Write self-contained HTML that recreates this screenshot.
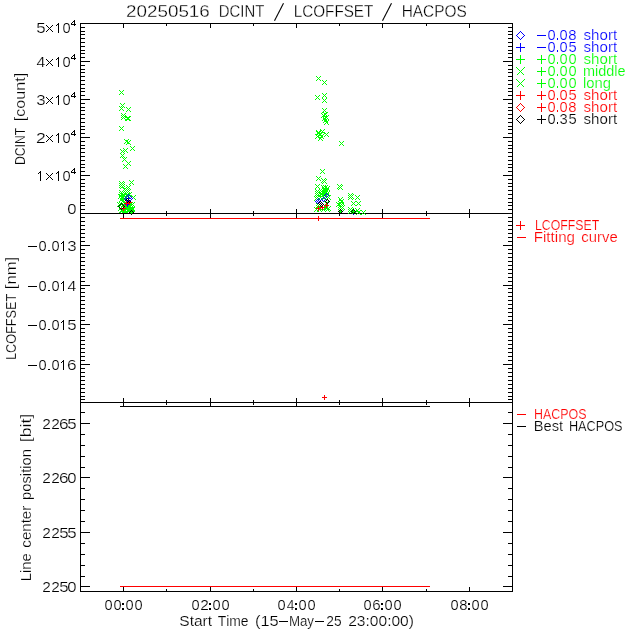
<!DOCTYPE html>
<html><head><meta charset="utf-8"><style>
html,body{margin:0;padding:0;background:#fff;}
svg{display:block;will-change:transform;}
text{font-family:"Liberation Sans", sans-serif;font-kerning:none;}
</style></head><body>
<svg width="640" height="640" viewBox="0 0 640 640">
<rect x="0" y="0" width="640" height="640" fill="#fff"/>
<g shape-rendering="crispEdges">
<rect x="80" y="23" width="433" height="1" fill="#000"/>
<rect x="80" y="213" width="433" height="1" fill="#000"/>
<rect x="80" y="213" width="433" height="1" fill="#000"/>
<rect x="80" y="402" width="433" height="1" fill="#000"/>
<rect x="80" y="402" width="433" height="1" fill="#000"/>
<rect x="80" y="591" width="433" height="1" fill="#000"/>
<rect x="80" y="23" width="1" height="569" fill="#000"/>
<rect x="512" y="23" width="1" height="569" fill="#000"/>
<rect x="123" y="24" width="1" height="4" fill="#000"/>
<rect x="123" y="209" width="1" height="4" fill="#000"/>
<rect x="166" y="24" width="1" height="2" fill="#000"/>
<rect x="166" y="211" width="1" height="2" fill="#000"/>
<rect x="210" y="24" width="1" height="4" fill="#000"/>
<rect x="210" y="209" width="1" height="4" fill="#000"/>
<rect x="253" y="24" width="1" height="2" fill="#000"/>
<rect x="253" y="211" width="1" height="2" fill="#000"/>
<rect x="296" y="24" width="1" height="4" fill="#000"/>
<rect x="296" y="209" width="1" height="4" fill="#000"/>
<rect x="339" y="24" width="1" height="2" fill="#000"/>
<rect x="339" y="211" width="1" height="2" fill="#000"/>
<rect x="382" y="24" width="1" height="4" fill="#000"/>
<rect x="382" y="209" width="1" height="4" fill="#000"/>
<rect x="426" y="24" width="1" height="2" fill="#000"/>
<rect x="426" y="211" width="1" height="2" fill="#000"/>
<rect x="469" y="24" width="1" height="4" fill="#000"/>
<rect x="469" y="209" width="1" height="4" fill="#000"/>
<rect x="123" y="214" width="1" height="4" fill="#000"/>
<rect x="123" y="398" width="1" height="4" fill="#000"/>
<rect x="166" y="214" width="1" height="2" fill="#000"/>
<rect x="166" y="400" width="1" height="2" fill="#000"/>
<rect x="210" y="214" width="1" height="4" fill="#000"/>
<rect x="210" y="398" width="1" height="4" fill="#000"/>
<rect x="253" y="214" width="1" height="2" fill="#000"/>
<rect x="253" y="400" width="1" height="2" fill="#000"/>
<rect x="296" y="214" width="1" height="4" fill="#000"/>
<rect x="296" y="398" width="1" height="4" fill="#000"/>
<rect x="339" y="214" width="1" height="2" fill="#000"/>
<rect x="339" y="400" width="1" height="2" fill="#000"/>
<rect x="382" y="214" width="1" height="4" fill="#000"/>
<rect x="382" y="398" width="1" height="4" fill="#000"/>
<rect x="426" y="214" width="1" height="2" fill="#000"/>
<rect x="426" y="400" width="1" height="2" fill="#000"/>
<rect x="469" y="214" width="1" height="4" fill="#000"/>
<rect x="469" y="398" width="1" height="4" fill="#000"/>
<rect x="123" y="403" width="1" height="4" fill="#000"/>
<rect x="123" y="587" width="1" height="4" fill="#000"/>
<rect x="166" y="403" width="1" height="2" fill="#000"/>
<rect x="166" y="589" width="1" height="2" fill="#000"/>
<rect x="210" y="403" width="1" height="4" fill="#000"/>
<rect x="210" y="587" width="1" height="4" fill="#000"/>
<rect x="253" y="403" width="1" height="2" fill="#000"/>
<rect x="253" y="589" width="1" height="2" fill="#000"/>
<rect x="296" y="403" width="1" height="4" fill="#000"/>
<rect x="296" y="587" width="1" height="4" fill="#000"/>
<rect x="339" y="403" width="1" height="2" fill="#000"/>
<rect x="339" y="589" width="1" height="2" fill="#000"/>
<rect x="382" y="403" width="1" height="4" fill="#000"/>
<rect x="382" y="587" width="1" height="4" fill="#000"/>
<rect x="426" y="403" width="1" height="2" fill="#000"/>
<rect x="426" y="589" width="1" height="2" fill="#000"/>
<rect x="469" y="403" width="1" height="4" fill="#000"/>
<rect x="469" y="587" width="1" height="4" fill="#000"/>
<rect x="80" y="23" width="10" height="1" fill="#000"/>
<rect x="503" y="23" width="10" height="1" fill="#000"/>
<rect x="80" y="27" width="5" height="1" fill="#000"/>
<rect x="508" y="27" width="5" height="1" fill="#000"/>
<rect x="80" y="31" width="5" height="1" fill="#000"/>
<rect x="508" y="31" width="5" height="1" fill="#000"/>
<rect x="80" y="34" width="5" height="1" fill="#000"/>
<rect x="508" y="34" width="5" height="1" fill="#000"/>
<rect x="80" y="38" width="5" height="1" fill="#000"/>
<rect x="508" y="38" width="5" height="1" fill="#000"/>
<rect x="80" y="42" width="5" height="1" fill="#000"/>
<rect x="508" y="42" width="5" height="1" fill="#000"/>
<rect x="80" y="46" width="5" height="1" fill="#000"/>
<rect x="508" y="46" width="5" height="1" fill="#000"/>
<rect x="80" y="50" width="5" height="1" fill="#000"/>
<rect x="508" y="50" width="5" height="1" fill="#000"/>
<rect x="80" y="53" width="5" height="1" fill="#000"/>
<rect x="508" y="53" width="5" height="1" fill="#000"/>
<rect x="80" y="57" width="5" height="1" fill="#000"/>
<rect x="508" y="57" width="5" height="1" fill="#000"/>
<rect x="80" y="61" width="10" height="1" fill="#000"/>
<rect x="503" y="61" width="10" height="1" fill="#000"/>
<rect x="80" y="65" width="5" height="1" fill="#000"/>
<rect x="508" y="65" width="5" height="1" fill="#000"/>
<rect x="80" y="69" width="5" height="1" fill="#000"/>
<rect x="508" y="69" width="5" height="1" fill="#000"/>
<rect x="80" y="72" width="5" height="1" fill="#000"/>
<rect x="508" y="72" width="5" height="1" fill="#000"/>
<rect x="80" y="76" width="5" height="1" fill="#000"/>
<rect x="508" y="76" width="5" height="1" fill="#000"/>
<rect x="80" y="80" width="5" height="1" fill="#000"/>
<rect x="508" y="80" width="5" height="1" fill="#000"/>
<rect x="80" y="84" width="5" height="1" fill="#000"/>
<rect x="508" y="84" width="5" height="1" fill="#000"/>
<rect x="80" y="88" width="5" height="1" fill="#000"/>
<rect x="508" y="88" width="5" height="1" fill="#000"/>
<rect x="80" y="91" width="5" height="1" fill="#000"/>
<rect x="508" y="91" width="5" height="1" fill="#000"/>
<rect x="80" y="95" width="5" height="1" fill="#000"/>
<rect x="508" y="95" width="5" height="1" fill="#000"/>
<rect x="80" y="99" width="10" height="1" fill="#000"/>
<rect x="503" y="99" width="10" height="1" fill="#000"/>
<rect x="80" y="103" width="5" height="1" fill="#000"/>
<rect x="508" y="103" width="5" height="1" fill="#000"/>
<rect x="80" y="107" width="5" height="1" fill="#000"/>
<rect x="508" y="107" width="5" height="1" fill="#000"/>
<rect x="80" y="110" width="5" height="1" fill="#000"/>
<rect x="508" y="110" width="5" height="1" fill="#000"/>
<rect x="80" y="114" width="5" height="1" fill="#000"/>
<rect x="508" y="114" width="5" height="1" fill="#000"/>
<rect x="80" y="118" width="5" height="1" fill="#000"/>
<rect x="508" y="118" width="5" height="1" fill="#000"/>
<rect x="80" y="122" width="5" height="1" fill="#000"/>
<rect x="508" y="122" width="5" height="1" fill="#000"/>
<rect x="80" y="126" width="5" height="1" fill="#000"/>
<rect x="508" y="126" width="5" height="1" fill="#000"/>
<rect x="80" y="129" width="5" height="1" fill="#000"/>
<rect x="508" y="129" width="5" height="1" fill="#000"/>
<rect x="80" y="133" width="5" height="1" fill="#000"/>
<rect x="508" y="133" width="5" height="1" fill="#000"/>
<rect x="80" y="137" width="10" height="1" fill="#000"/>
<rect x="503" y="137" width="10" height="1" fill="#000"/>
<rect x="80" y="141" width="5" height="1" fill="#000"/>
<rect x="508" y="141" width="5" height="1" fill="#000"/>
<rect x="80" y="145" width="5" height="1" fill="#000"/>
<rect x="508" y="145" width="5" height="1" fill="#000"/>
<rect x="80" y="148" width="5" height="1" fill="#000"/>
<rect x="508" y="148" width="5" height="1" fill="#000"/>
<rect x="80" y="152" width="5" height="1" fill="#000"/>
<rect x="508" y="152" width="5" height="1" fill="#000"/>
<rect x="80" y="156" width="5" height="1" fill="#000"/>
<rect x="508" y="156" width="5" height="1" fill="#000"/>
<rect x="80" y="160" width="5" height="1" fill="#000"/>
<rect x="508" y="160" width="5" height="1" fill="#000"/>
<rect x="80" y="164" width="5" height="1" fill="#000"/>
<rect x="508" y="164" width="5" height="1" fill="#000"/>
<rect x="80" y="167" width="5" height="1" fill="#000"/>
<rect x="508" y="167" width="5" height="1" fill="#000"/>
<rect x="80" y="171" width="5" height="1" fill="#000"/>
<rect x="508" y="171" width="5" height="1" fill="#000"/>
<rect x="80" y="175" width="10" height="1" fill="#000"/>
<rect x="503" y="175" width="10" height="1" fill="#000"/>
<rect x="80" y="179" width="5" height="1" fill="#000"/>
<rect x="508" y="179" width="5" height="1" fill="#000"/>
<rect x="80" y="183" width="5" height="1" fill="#000"/>
<rect x="508" y="183" width="5" height="1" fill="#000"/>
<rect x="80" y="186" width="5" height="1" fill="#000"/>
<rect x="508" y="186" width="5" height="1" fill="#000"/>
<rect x="80" y="190" width="5" height="1" fill="#000"/>
<rect x="508" y="190" width="5" height="1" fill="#000"/>
<rect x="80" y="194" width="5" height="1" fill="#000"/>
<rect x="508" y="194" width="5" height="1" fill="#000"/>
<rect x="80" y="198" width="5" height="1" fill="#000"/>
<rect x="508" y="198" width="5" height="1" fill="#000"/>
<rect x="80" y="202" width="5" height="1" fill="#000"/>
<rect x="508" y="202" width="5" height="1" fill="#000"/>
<rect x="80" y="205" width="5" height="1" fill="#000"/>
<rect x="508" y="205" width="5" height="1" fill="#000"/>
<rect x="80" y="209" width="5" height="1" fill="#000"/>
<rect x="508" y="209" width="5" height="1" fill="#000"/>
<rect x="80" y="213" width="10" height="1" fill="#000"/>
<rect x="503" y="213" width="10" height="1" fill="#000"/>
<rect x="80" y="217" width="5" height="1" fill="#000"/>
<rect x="508" y="217" width="5" height="1" fill="#000"/>
<rect x="80" y="221" width="5" height="1" fill="#000"/>
<rect x="508" y="221" width="5" height="1" fill="#000"/>
<rect x="80" y="225" width="5" height="1" fill="#000"/>
<rect x="508" y="225" width="5" height="1" fill="#000"/>
<rect x="80" y="229" width="5" height="1" fill="#000"/>
<rect x="508" y="229" width="5" height="1" fill="#000"/>
<rect x="80" y="233" width="5" height="1" fill="#000"/>
<rect x="508" y="233" width="5" height="1" fill="#000"/>
<rect x="80" y="237" width="5" height="1" fill="#000"/>
<rect x="508" y="237" width="5" height="1" fill="#000"/>
<rect x="80" y="241" width="5" height="1" fill="#000"/>
<rect x="508" y="241" width="5" height="1" fill="#000"/>
<rect x="80" y="245" width="10" height="1" fill="#000"/>
<rect x="503" y="245" width="10" height="1" fill="#000"/>
<rect x="80" y="249" width="5" height="1" fill="#000"/>
<rect x="508" y="249" width="5" height="1" fill="#000"/>
<rect x="80" y="253" width="5" height="1" fill="#000"/>
<rect x="508" y="253" width="5" height="1" fill="#000"/>
<rect x="80" y="257" width="5" height="1" fill="#000"/>
<rect x="508" y="257" width="5" height="1" fill="#000"/>
<rect x="80" y="261" width="5" height="1" fill="#000"/>
<rect x="508" y="261" width="5" height="1" fill="#000"/>
<rect x="80" y="265" width="5" height="1" fill="#000"/>
<rect x="508" y="265" width="5" height="1" fill="#000"/>
<rect x="80" y="269" width="5" height="1" fill="#000"/>
<rect x="508" y="269" width="5" height="1" fill="#000"/>
<rect x="80" y="273" width="5" height="1" fill="#000"/>
<rect x="508" y="273" width="5" height="1" fill="#000"/>
<rect x="80" y="277" width="5" height="1" fill="#000"/>
<rect x="508" y="277" width="5" height="1" fill="#000"/>
<rect x="80" y="281" width="5" height="1" fill="#000"/>
<rect x="508" y="281" width="5" height="1" fill="#000"/>
<rect x="80" y="285" width="10" height="1" fill="#000"/>
<rect x="503" y="285" width="10" height="1" fill="#000"/>
<rect x="80" y="288" width="5" height="1" fill="#000"/>
<rect x="508" y="288" width="5" height="1" fill="#000"/>
<rect x="80" y="292" width="5" height="1" fill="#000"/>
<rect x="508" y="292" width="5" height="1" fill="#000"/>
<rect x="80" y="296" width="5" height="1" fill="#000"/>
<rect x="508" y="296" width="5" height="1" fill="#000"/>
<rect x="80" y="300" width="5" height="1" fill="#000"/>
<rect x="508" y="300" width="5" height="1" fill="#000"/>
<rect x="80" y="304" width="5" height="1" fill="#000"/>
<rect x="508" y="304" width="5" height="1" fill="#000"/>
<rect x="80" y="308" width="5" height="1" fill="#000"/>
<rect x="508" y="308" width="5" height="1" fill="#000"/>
<rect x="80" y="312" width="5" height="1" fill="#000"/>
<rect x="508" y="312" width="5" height="1" fill="#000"/>
<rect x="80" y="316" width="5" height="1" fill="#000"/>
<rect x="508" y="316" width="5" height="1" fill="#000"/>
<rect x="80" y="320" width="5" height="1" fill="#000"/>
<rect x="508" y="320" width="5" height="1" fill="#000"/>
<rect x="80" y="324" width="10" height="1" fill="#000"/>
<rect x="503" y="324" width="10" height="1" fill="#000"/>
<rect x="80" y="328" width="5" height="1" fill="#000"/>
<rect x="508" y="328" width="5" height="1" fill="#000"/>
<rect x="80" y="332" width="5" height="1" fill="#000"/>
<rect x="508" y="332" width="5" height="1" fill="#000"/>
<rect x="80" y="336" width="5" height="1" fill="#000"/>
<rect x="508" y="336" width="5" height="1" fill="#000"/>
<rect x="80" y="340" width="5" height="1" fill="#000"/>
<rect x="508" y="340" width="5" height="1" fill="#000"/>
<rect x="80" y="344" width="5" height="1" fill="#000"/>
<rect x="508" y="344" width="5" height="1" fill="#000"/>
<rect x="80" y="348" width="5" height="1" fill="#000"/>
<rect x="508" y="348" width="5" height="1" fill="#000"/>
<rect x="80" y="352" width="5" height="1" fill="#000"/>
<rect x="508" y="352" width="5" height="1" fill="#000"/>
<rect x="80" y="356" width="5" height="1" fill="#000"/>
<rect x="508" y="356" width="5" height="1" fill="#000"/>
<rect x="80" y="360" width="5" height="1" fill="#000"/>
<rect x="508" y="360" width="5" height="1" fill="#000"/>
<rect x="80" y="364" width="10" height="1" fill="#000"/>
<rect x="503" y="364" width="10" height="1" fill="#000"/>
<rect x="80" y="368" width="5" height="1" fill="#000"/>
<rect x="508" y="368" width="5" height="1" fill="#000"/>
<rect x="80" y="372" width="5" height="1" fill="#000"/>
<rect x="508" y="372" width="5" height="1" fill="#000"/>
<rect x="80" y="376" width="5" height="1" fill="#000"/>
<rect x="508" y="376" width="5" height="1" fill="#000"/>
<rect x="80" y="380" width="5" height="1" fill="#000"/>
<rect x="508" y="380" width="5" height="1" fill="#000"/>
<rect x="80" y="384" width="5" height="1" fill="#000"/>
<rect x="508" y="384" width="5" height="1" fill="#000"/>
<rect x="80" y="388" width="5" height="1" fill="#000"/>
<rect x="508" y="388" width="5" height="1" fill="#000"/>
<rect x="80" y="392" width="5" height="1" fill="#000"/>
<rect x="508" y="392" width="5" height="1" fill="#000"/>
<rect x="80" y="396" width="5" height="1" fill="#000"/>
<rect x="508" y="396" width="5" height="1" fill="#000"/>
<rect x="80" y="399" width="5" height="1" fill="#000"/>
<rect x="508" y="399" width="5" height="1" fill="#000"/>
<rect x="80" y="412" width="5" height="1" fill="#000"/>
<rect x="508" y="412" width="5" height="1" fill="#000"/>
<rect x="80" y="423" width="10" height="1" fill="#000"/>
<rect x="503" y="423" width="10" height="1" fill="#000"/>
<rect x="80" y="434" width="5" height="1" fill="#000"/>
<rect x="508" y="434" width="5" height="1" fill="#000"/>
<rect x="80" y="445" width="5" height="1" fill="#000"/>
<rect x="508" y="445" width="5" height="1" fill="#000"/>
<rect x="80" y="456" width="5" height="1" fill="#000"/>
<rect x="508" y="456" width="5" height="1" fill="#000"/>
<rect x="80" y="467" width="5" height="1" fill="#000"/>
<rect x="508" y="467" width="5" height="1" fill="#000"/>
<rect x="80" y="477" width="10" height="1" fill="#000"/>
<rect x="503" y="477" width="10" height="1" fill="#000"/>
<rect x="80" y="488" width="5" height="1" fill="#000"/>
<rect x="508" y="488" width="5" height="1" fill="#000"/>
<rect x="80" y="499" width="5" height="1" fill="#000"/>
<rect x="508" y="499" width="5" height="1" fill="#000"/>
<rect x="80" y="510" width="5" height="1" fill="#000"/>
<rect x="508" y="510" width="5" height="1" fill="#000"/>
<rect x="80" y="521" width="5" height="1" fill="#000"/>
<rect x="508" y="521" width="5" height="1" fill="#000"/>
<rect x="80" y="532" width="10" height="1" fill="#000"/>
<rect x="503" y="532" width="10" height="1" fill="#000"/>
<rect x="80" y="543" width="5" height="1" fill="#000"/>
<rect x="508" y="543" width="5" height="1" fill="#000"/>
<rect x="80" y="554" width="5" height="1" fill="#000"/>
<rect x="508" y="554" width="5" height="1" fill="#000"/>
<rect x="80" y="565" width="5" height="1" fill="#000"/>
<rect x="508" y="565" width="5" height="1" fill="#000"/>
<rect x="80" y="576" width="5" height="1" fill="#000"/>
<rect x="508" y="576" width="5" height="1" fill="#000"/>
<rect x="80" y="586" width="10" height="1" fill="#000"/>
<rect x="503" y="586" width="10" height="1" fill="#000"/>
<rect x="351" y="212" width="5" height="1" fill="#0000ff"/>
<rect x="353" y="210" width="1" height="5" fill="#0000ff"/>
<rect x="119" y="90" width="1" height="1" fill="#00ff00"/>
<rect x="119" y="94" width="1" height="1" fill="#00ff00"/>
<rect x="120" y="91" width="1" height="1" fill="#00ff00"/>
<rect x="120" y="93" width="1" height="1" fill="#00ff00"/>
<rect x="121" y="92" width="1" height="1" fill="#00ff00"/>
<rect x="122" y="93" width="1" height="1" fill="#00ff00"/>
<rect x="122" y="91" width="1" height="1" fill="#00ff00"/>
<rect x="123" y="94" width="1" height="1" fill="#00ff00"/>
<rect x="123" y="90" width="1" height="1" fill="#00ff00"/>
<rect x="120" y="103" width="1" height="1" fill="#00ff00"/>
<rect x="120" y="107" width="1" height="1" fill="#00ff00"/>
<rect x="121" y="104" width="1" height="1" fill="#00ff00"/>
<rect x="121" y="106" width="1" height="1" fill="#00ff00"/>
<rect x="122" y="105" width="1" height="1" fill="#00ff00"/>
<rect x="123" y="106" width="1" height="1" fill="#00ff00"/>
<rect x="123" y="104" width="1" height="1" fill="#00ff00"/>
<rect x="124" y="107" width="1" height="1" fill="#00ff00"/>
<rect x="124" y="103" width="1" height="1" fill="#00ff00"/>
<rect x="119" y="106" width="1" height="1" fill="#00ff00"/>
<rect x="119" y="110" width="1" height="1" fill="#00ff00"/>
<rect x="120" y="107" width="1" height="1" fill="#00ff00"/>
<rect x="120" y="109" width="1" height="1" fill="#00ff00"/>
<rect x="121" y="108" width="1" height="1" fill="#00ff00"/>
<rect x="122" y="109" width="1" height="1" fill="#00ff00"/>
<rect x="122" y="107" width="1" height="1" fill="#00ff00"/>
<rect x="123" y="110" width="1" height="1" fill="#00ff00"/>
<rect x="123" y="106" width="1" height="1" fill="#00ff00"/>
<rect x="126" y="107" width="1" height="1" fill="#00ff00"/>
<rect x="126" y="111" width="1" height="1" fill="#00ff00"/>
<rect x="127" y="108" width="1" height="1" fill="#00ff00"/>
<rect x="127" y="110" width="1" height="1" fill="#00ff00"/>
<rect x="128" y="109" width="1" height="1" fill="#00ff00"/>
<rect x="129" y="110" width="1" height="1" fill="#00ff00"/>
<rect x="129" y="108" width="1" height="1" fill="#00ff00"/>
<rect x="130" y="111" width="1" height="1" fill="#00ff00"/>
<rect x="130" y="107" width="1" height="1" fill="#00ff00"/>
<rect x="121" y="113" width="1" height="1" fill="#00ff00"/>
<rect x="121" y="117" width="1" height="1" fill="#00ff00"/>
<rect x="122" y="114" width="1" height="1" fill="#00ff00"/>
<rect x="122" y="116" width="1" height="1" fill="#00ff00"/>
<rect x="123" y="115" width="1" height="1" fill="#00ff00"/>
<rect x="124" y="116" width="1" height="1" fill="#00ff00"/>
<rect x="124" y="114" width="1" height="1" fill="#00ff00"/>
<rect x="125" y="117" width="1" height="1" fill="#00ff00"/>
<rect x="125" y="113" width="1" height="1" fill="#00ff00"/>
<rect x="121" y="115" width="1" height="1" fill="#00ff00"/>
<rect x="121" y="119" width="1" height="1" fill="#00ff00"/>
<rect x="122" y="116" width="1" height="1" fill="#00ff00"/>
<rect x="122" y="118" width="1" height="1" fill="#00ff00"/>
<rect x="123" y="117" width="1" height="1" fill="#00ff00"/>
<rect x="124" y="118" width="1" height="1" fill="#00ff00"/>
<rect x="124" y="116" width="1" height="1" fill="#00ff00"/>
<rect x="125" y="119" width="1" height="1" fill="#00ff00"/>
<rect x="125" y="115" width="1" height="1" fill="#00ff00"/>
<rect x="125" y="116" width="1" height="1" fill="#00ff00"/>
<rect x="125" y="120" width="1" height="1" fill="#00ff00"/>
<rect x="126" y="117" width="1" height="1" fill="#00ff00"/>
<rect x="126" y="119" width="1" height="1" fill="#00ff00"/>
<rect x="127" y="118" width="1" height="1" fill="#00ff00"/>
<rect x="128" y="119" width="1" height="1" fill="#00ff00"/>
<rect x="128" y="117" width="1" height="1" fill="#00ff00"/>
<rect x="129" y="120" width="1" height="1" fill="#00ff00"/>
<rect x="129" y="116" width="1" height="1" fill="#00ff00"/>
<rect x="126" y="116" width="1" height="1" fill="#00ff00"/>
<rect x="126" y="120" width="1" height="1" fill="#00ff00"/>
<rect x="127" y="117" width="1" height="1" fill="#00ff00"/>
<rect x="127" y="119" width="1" height="1" fill="#00ff00"/>
<rect x="128" y="118" width="1" height="1" fill="#00ff00"/>
<rect x="129" y="119" width="1" height="1" fill="#00ff00"/>
<rect x="129" y="117" width="1" height="1" fill="#00ff00"/>
<rect x="130" y="120" width="1" height="1" fill="#00ff00"/>
<rect x="130" y="116" width="1" height="1" fill="#00ff00"/>
<rect x="119" y="126" width="1" height="1" fill="#00ff00"/>
<rect x="119" y="130" width="1" height="1" fill="#00ff00"/>
<rect x="120" y="127" width="1" height="1" fill="#00ff00"/>
<rect x="120" y="129" width="1" height="1" fill="#00ff00"/>
<rect x="121" y="128" width="1" height="1" fill="#00ff00"/>
<rect x="122" y="129" width="1" height="1" fill="#00ff00"/>
<rect x="122" y="127" width="1" height="1" fill="#00ff00"/>
<rect x="123" y="130" width="1" height="1" fill="#00ff00"/>
<rect x="123" y="126" width="1" height="1" fill="#00ff00"/>
<rect x="124" y="139" width="1" height="1" fill="#00ff00"/>
<rect x="124" y="143" width="1" height="1" fill="#00ff00"/>
<rect x="125" y="140" width="1" height="1" fill="#00ff00"/>
<rect x="125" y="142" width="1" height="1" fill="#00ff00"/>
<rect x="126" y="141" width="1" height="1" fill="#00ff00"/>
<rect x="127" y="142" width="1" height="1" fill="#00ff00"/>
<rect x="127" y="140" width="1" height="1" fill="#00ff00"/>
<rect x="128" y="143" width="1" height="1" fill="#00ff00"/>
<rect x="128" y="139" width="1" height="1" fill="#00ff00"/>
<rect x="126" y="140" width="1" height="1" fill="#00ff00"/>
<rect x="126" y="144" width="1" height="1" fill="#00ff00"/>
<rect x="127" y="141" width="1" height="1" fill="#00ff00"/>
<rect x="127" y="143" width="1" height="1" fill="#00ff00"/>
<rect x="128" y="142" width="1" height="1" fill="#00ff00"/>
<rect x="129" y="143" width="1" height="1" fill="#00ff00"/>
<rect x="129" y="141" width="1" height="1" fill="#00ff00"/>
<rect x="130" y="144" width="1" height="1" fill="#00ff00"/>
<rect x="130" y="140" width="1" height="1" fill="#00ff00"/>
<rect x="130" y="146" width="1" height="1" fill="#00ff00"/>
<rect x="130" y="150" width="1" height="1" fill="#00ff00"/>
<rect x="131" y="147" width="1" height="1" fill="#00ff00"/>
<rect x="131" y="149" width="1" height="1" fill="#00ff00"/>
<rect x="132" y="148" width="1" height="1" fill="#00ff00"/>
<rect x="133" y="149" width="1" height="1" fill="#00ff00"/>
<rect x="133" y="147" width="1" height="1" fill="#00ff00"/>
<rect x="134" y="150" width="1" height="1" fill="#00ff00"/>
<rect x="134" y="146" width="1" height="1" fill="#00ff00"/>
<rect x="120" y="149" width="1" height="1" fill="#00ff00"/>
<rect x="120" y="153" width="1" height="1" fill="#00ff00"/>
<rect x="121" y="150" width="1" height="1" fill="#00ff00"/>
<rect x="121" y="152" width="1" height="1" fill="#00ff00"/>
<rect x="122" y="151" width="1" height="1" fill="#00ff00"/>
<rect x="123" y="152" width="1" height="1" fill="#00ff00"/>
<rect x="123" y="150" width="1" height="1" fill="#00ff00"/>
<rect x="124" y="153" width="1" height="1" fill="#00ff00"/>
<rect x="124" y="149" width="1" height="1" fill="#00ff00"/>
<rect x="123" y="148" width="1" height="1" fill="#00ff00"/>
<rect x="123" y="152" width="1" height="1" fill="#00ff00"/>
<rect x="124" y="149" width="1" height="1" fill="#00ff00"/>
<rect x="124" y="151" width="1" height="1" fill="#00ff00"/>
<rect x="125" y="150" width="1" height="1" fill="#00ff00"/>
<rect x="126" y="151" width="1" height="1" fill="#00ff00"/>
<rect x="126" y="149" width="1" height="1" fill="#00ff00"/>
<rect x="127" y="152" width="1" height="1" fill="#00ff00"/>
<rect x="127" y="148" width="1" height="1" fill="#00ff00"/>
<rect x="120" y="153" width="1" height="1" fill="#00ff00"/>
<rect x="120" y="157" width="1" height="1" fill="#00ff00"/>
<rect x="121" y="154" width="1" height="1" fill="#00ff00"/>
<rect x="121" y="156" width="1" height="1" fill="#00ff00"/>
<rect x="122" y="155" width="1" height="1" fill="#00ff00"/>
<rect x="123" y="156" width="1" height="1" fill="#00ff00"/>
<rect x="123" y="154" width="1" height="1" fill="#00ff00"/>
<rect x="124" y="157" width="1" height="1" fill="#00ff00"/>
<rect x="124" y="153" width="1" height="1" fill="#00ff00"/>
<rect x="122" y="157" width="1" height="1" fill="#00ff00"/>
<rect x="122" y="161" width="1" height="1" fill="#00ff00"/>
<rect x="123" y="158" width="1" height="1" fill="#00ff00"/>
<rect x="123" y="160" width="1" height="1" fill="#00ff00"/>
<rect x="124" y="159" width="1" height="1" fill="#00ff00"/>
<rect x="125" y="160" width="1" height="1" fill="#00ff00"/>
<rect x="125" y="158" width="1" height="1" fill="#00ff00"/>
<rect x="126" y="161" width="1" height="1" fill="#00ff00"/>
<rect x="126" y="157" width="1" height="1" fill="#00ff00"/>
<rect x="126" y="161" width="1" height="1" fill="#00ff00"/>
<rect x="126" y="165" width="1" height="1" fill="#00ff00"/>
<rect x="127" y="162" width="1" height="1" fill="#00ff00"/>
<rect x="127" y="164" width="1" height="1" fill="#00ff00"/>
<rect x="128" y="163" width="1" height="1" fill="#00ff00"/>
<rect x="129" y="164" width="1" height="1" fill="#00ff00"/>
<rect x="129" y="162" width="1" height="1" fill="#00ff00"/>
<rect x="130" y="165" width="1" height="1" fill="#00ff00"/>
<rect x="130" y="161" width="1" height="1" fill="#00ff00"/>
<rect x="123" y="164" width="1" height="1" fill="#00ff00"/>
<rect x="123" y="168" width="1" height="1" fill="#00ff00"/>
<rect x="124" y="165" width="1" height="1" fill="#00ff00"/>
<rect x="124" y="167" width="1" height="1" fill="#00ff00"/>
<rect x="125" y="166" width="1" height="1" fill="#00ff00"/>
<rect x="126" y="167" width="1" height="1" fill="#00ff00"/>
<rect x="126" y="165" width="1" height="1" fill="#00ff00"/>
<rect x="127" y="168" width="1" height="1" fill="#00ff00"/>
<rect x="127" y="164" width="1" height="1" fill="#00ff00"/>
<rect x="129" y="180" width="1" height="1" fill="#00ff00"/>
<rect x="129" y="184" width="1" height="1" fill="#00ff00"/>
<rect x="130" y="181" width="1" height="1" fill="#00ff00"/>
<rect x="130" y="183" width="1" height="1" fill="#00ff00"/>
<rect x="131" y="182" width="1" height="1" fill="#00ff00"/>
<rect x="132" y="183" width="1" height="1" fill="#00ff00"/>
<rect x="132" y="181" width="1" height="1" fill="#00ff00"/>
<rect x="133" y="184" width="1" height="1" fill="#00ff00"/>
<rect x="133" y="180" width="1" height="1" fill="#00ff00"/>
<rect x="119" y="181" width="1" height="1" fill="#00ff00"/>
<rect x="119" y="185" width="1" height="1" fill="#00ff00"/>
<rect x="120" y="182" width="1" height="1" fill="#00ff00"/>
<rect x="120" y="184" width="1" height="1" fill="#00ff00"/>
<rect x="121" y="183" width="1" height="1" fill="#00ff00"/>
<rect x="122" y="184" width="1" height="1" fill="#00ff00"/>
<rect x="122" y="182" width="1" height="1" fill="#00ff00"/>
<rect x="123" y="185" width="1" height="1" fill="#00ff00"/>
<rect x="123" y="181" width="1" height="1" fill="#00ff00"/>
<rect x="120" y="182" width="1" height="1" fill="#00ff00"/>
<rect x="120" y="186" width="1" height="1" fill="#00ff00"/>
<rect x="121" y="183" width="1" height="1" fill="#00ff00"/>
<rect x="121" y="185" width="1" height="1" fill="#00ff00"/>
<rect x="122" y="184" width="1" height="1" fill="#00ff00"/>
<rect x="123" y="185" width="1" height="1" fill="#00ff00"/>
<rect x="123" y="183" width="1" height="1" fill="#00ff00"/>
<rect x="124" y="186" width="1" height="1" fill="#00ff00"/>
<rect x="124" y="182" width="1" height="1" fill="#00ff00"/>
<rect x="119" y="183" width="1" height="1" fill="#00ff00"/>
<rect x="119" y="187" width="1" height="1" fill="#00ff00"/>
<rect x="120" y="184" width="1" height="1" fill="#00ff00"/>
<rect x="120" y="186" width="1" height="1" fill="#00ff00"/>
<rect x="121" y="185" width="1" height="1" fill="#00ff00"/>
<rect x="122" y="186" width="1" height="1" fill="#00ff00"/>
<rect x="122" y="184" width="1" height="1" fill="#00ff00"/>
<rect x="123" y="187" width="1" height="1" fill="#00ff00"/>
<rect x="123" y="183" width="1" height="1" fill="#00ff00"/>
<rect x="120" y="184" width="1" height="1" fill="#00ff00"/>
<rect x="120" y="188" width="1" height="1" fill="#00ff00"/>
<rect x="121" y="185" width="1" height="1" fill="#00ff00"/>
<rect x="121" y="187" width="1" height="1" fill="#00ff00"/>
<rect x="122" y="186" width="1" height="1" fill="#00ff00"/>
<rect x="123" y="187" width="1" height="1" fill="#00ff00"/>
<rect x="123" y="185" width="1" height="1" fill="#00ff00"/>
<rect x="124" y="188" width="1" height="1" fill="#00ff00"/>
<rect x="124" y="184" width="1" height="1" fill="#00ff00"/>
<rect x="126" y="185" width="1" height="1" fill="#00ff00"/>
<rect x="126" y="189" width="1" height="1" fill="#00ff00"/>
<rect x="127" y="186" width="1" height="1" fill="#00ff00"/>
<rect x="127" y="188" width="1" height="1" fill="#00ff00"/>
<rect x="128" y="187" width="1" height="1" fill="#00ff00"/>
<rect x="129" y="188" width="1" height="1" fill="#00ff00"/>
<rect x="129" y="186" width="1" height="1" fill="#00ff00"/>
<rect x="130" y="189" width="1" height="1" fill="#00ff00"/>
<rect x="130" y="185" width="1" height="1" fill="#00ff00"/>
<rect x="122" y="187" width="1" height="1" fill="#00ff00"/>
<rect x="122" y="191" width="1" height="1" fill="#00ff00"/>
<rect x="123" y="188" width="1" height="1" fill="#00ff00"/>
<rect x="123" y="190" width="1" height="1" fill="#00ff00"/>
<rect x="124" y="189" width="1" height="1" fill="#00ff00"/>
<rect x="125" y="190" width="1" height="1" fill="#00ff00"/>
<rect x="125" y="188" width="1" height="1" fill="#00ff00"/>
<rect x="126" y="191" width="1" height="1" fill="#00ff00"/>
<rect x="126" y="187" width="1" height="1" fill="#00ff00"/>
<rect x="123" y="188" width="1" height="1" fill="#00ff00"/>
<rect x="123" y="192" width="1" height="1" fill="#00ff00"/>
<rect x="124" y="189" width="1" height="1" fill="#00ff00"/>
<rect x="124" y="191" width="1" height="1" fill="#00ff00"/>
<rect x="125" y="190" width="1" height="1" fill="#00ff00"/>
<rect x="126" y="191" width="1" height="1" fill="#00ff00"/>
<rect x="126" y="189" width="1" height="1" fill="#00ff00"/>
<rect x="127" y="192" width="1" height="1" fill="#00ff00"/>
<rect x="127" y="188" width="1" height="1" fill="#00ff00"/>
<rect x="124" y="189" width="1" height="1" fill="#00ff00"/>
<rect x="124" y="193" width="1" height="1" fill="#00ff00"/>
<rect x="125" y="190" width="1" height="1" fill="#00ff00"/>
<rect x="125" y="192" width="1" height="1" fill="#00ff00"/>
<rect x="126" y="191" width="1" height="1" fill="#00ff00"/>
<rect x="127" y="192" width="1" height="1" fill="#00ff00"/>
<rect x="127" y="190" width="1" height="1" fill="#00ff00"/>
<rect x="128" y="193" width="1" height="1" fill="#00ff00"/>
<rect x="128" y="189" width="1" height="1" fill="#00ff00"/>
<rect x="123" y="190" width="1" height="1" fill="#00ff00"/>
<rect x="123" y="194" width="1" height="1" fill="#00ff00"/>
<rect x="124" y="191" width="1" height="1" fill="#00ff00"/>
<rect x="124" y="193" width="1" height="1" fill="#00ff00"/>
<rect x="125" y="192" width="1" height="1" fill="#00ff00"/>
<rect x="126" y="193" width="1" height="1" fill="#00ff00"/>
<rect x="126" y="191" width="1" height="1" fill="#00ff00"/>
<rect x="127" y="194" width="1" height="1" fill="#00ff00"/>
<rect x="127" y="190" width="1" height="1" fill="#00ff00"/>
<rect x="125" y="190" width="1" height="1" fill="#00ff00"/>
<rect x="125" y="194" width="1" height="1" fill="#00ff00"/>
<rect x="126" y="191" width="1" height="1" fill="#00ff00"/>
<rect x="126" y="193" width="1" height="1" fill="#00ff00"/>
<rect x="127" y="192" width="1" height="1" fill="#00ff00"/>
<rect x="128" y="193" width="1" height="1" fill="#00ff00"/>
<rect x="128" y="191" width="1" height="1" fill="#00ff00"/>
<rect x="129" y="194" width="1" height="1" fill="#00ff00"/>
<rect x="129" y="190" width="1" height="1" fill="#00ff00"/>
<rect x="119" y="190" width="1" height="1" fill="#00ff00"/>
<rect x="119" y="194" width="1" height="1" fill="#00ff00"/>
<rect x="120" y="191" width="1" height="1" fill="#00ff00"/>
<rect x="120" y="193" width="1" height="1" fill="#00ff00"/>
<rect x="121" y="192" width="1" height="1" fill="#00ff00"/>
<rect x="122" y="193" width="1" height="1" fill="#00ff00"/>
<rect x="122" y="191" width="1" height="1" fill="#00ff00"/>
<rect x="123" y="194" width="1" height="1" fill="#00ff00"/>
<rect x="123" y="190" width="1" height="1" fill="#00ff00"/>
<rect x="119" y="192" width="1" height="1" fill="#00ff00"/>
<rect x="119" y="196" width="1" height="1" fill="#00ff00"/>
<rect x="120" y="193" width="1" height="1" fill="#00ff00"/>
<rect x="120" y="195" width="1" height="1" fill="#00ff00"/>
<rect x="121" y="194" width="1" height="1" fill="#00ff00"/>
<rect x="122" y="195" width="1" height="1" fill="#00ff00"/>
<rect x="122" y="193" width="1" height="1" fill="#00ff00"/>
<rect x="123" y="196" width="1" height="1" fill="#00ff00"/>
<rect x="123" y="192" width="1" height="1" fill="#00ff00"/>
<rect x="121" y="193" width="1" height="1" fill="#00ff00"/>
<rect x="121" y="197" width="1" height="1" fill="#00ff00"/>
<rect x="122" y="194" width="1" height="1" fill="#00ff00"/>
<rect x="122" y="196" width="1" height="1" fill="#00ff00"/>
<rect x="123" y="195" width="1" height="1" fill="#00ff00"/>
<rect x="124" y="196" width="1" height="1" fill="#00ff00"/>
<rect x="124" y="194" width="1" height="1" fill="#00ff00"/>
<rect x="125" y="197" width="1" height="1" fill="#00ff00"/>
<rect x="125" y="193" width="1" height="1" fill="#00ff00"/>
<rect x="123" y="192" width="1" height="1" fill="#00ff00"/>
<rect x="123" y="196" width="1" height="1" fill="#00ff00"/>
<rect x="124" y="193" width="1" height="1" fill="#00ff00"/>
<rect x="124" y="195" width="1" height="1" fill="#00ff00"/>
<rect x="125" y="194" width="1" height="1" fill="#00ff00"/>
<rect x="126" y="195" width="1" height="1" fill="#00ff00"/>
<rect x="126" y="193" width="1" height="1" fill="#00ff00"/>
<rect x="127" y="196" width="1" height="1" fill="#00ff00"/>
<rect x="127" y="192" width="1" height="1" fill="#00ff00"/>
<rect x="125" y="193" width="1" height="1" fill="#00ff00"/>
<rect x="125" y="197" width="1" height="1" fill="#00ff00"/>
<rect x="126" y="194" width="1" height="1" fill="#00ff00"/>
<rect x="126" y="196" width="1" height="1" fill="#00ff00"/>
<rect x="127" y="195" width="1" height="1" fill="#00ff00"/>
<rect x="128" y="196" width="1" height="1" fill="#00ff00"/>
<rect x="128" y="194" width="1" height="1" fill="#00ff00"/>
<rect x="129" y="197" width="1" height="1" fill="#00ff00"/>
<rect x="129" y="193" width="1" height="1" fill="#00ff00"/>
<rect x="120" y="195" width="1" height="1" fill="#00ff00"/>
<rect x="120" y="199" width="1" height="1" fill="#00ff00"/>
<rect x="121" y="196" width="1" height="1" fill="#00ff00"/>
<rect x="121" y="198" width="1" height="1" fill="#00ff00"/>
<rect x="122" y="197" width="1" height="1" fill="#00ff00"/>
<rect x="123" y="198" width="1" height="1" fill="#00ff00"/>
<rect x="123" y="196" width="1" height="1" fill="#00ff00"/>
<rect x="124" y="199" width="1" height="1" fill="#00ff00"/>
<rect x="124" y="195" width="1" height="1" fill="#00ff00"/>
<rect x="122" y="196" width="1" height="1" fill="#00ff00"/>
<rect x="122" y="200" width="1" height="1" fill="#00ff00"/>
<rect x="123" y="197" width="1" height="1" fill="#00ff00"/>
<rect x="123" y="199" width="1" height="1" fill="#00ff00"/>
<rect x="124" y="198" width="1" height="1" fill="#00ff00"/>
<rect x="125" y="199" width="1" height="1" fill="#00ff00"/>
<rect x="125" y="197" width="1" height="1" fill="#00ff00"/>
<rect x="126" y="200" width="1" height="1" fill="#00ff00"/>
<rect x="126" y="196" width="1" height="1" fill="#00ff00"/>
<rect x="124" y="195" width="1" height="1" fill="#00ff00"/>
<rect x="124" y="199" width="1" height="1" fill="#00ff00"/>
<rect x="125" y="196" width="1" height="1" fill="#00ff00"/>
<rect x="125" y="198" width="1" height="1" fill="#00ff00"/>
<rect x="126" y="197" width="1" height="1" fill="#00ff00"/>
<rect x="127" y="198" width="1" height="1" fill="#00ff00"/>
<rect x="127" y="196" width="1" height="1" fill="#00ff00"/>
<rect x="128" y="199" width="1" height="1" fill="#00ff00"/>
<rect x="128" y="195" width="1" height="1" fill="#00ff00"/>
<rect x="131" y="195" width="1" height="1" fill="#00ff00"/>
<rect x="131" y="199" width="1" height="1" fill="#00ff00"/>
<rect x="132" y="196" width="1" height="1" fill="#00ff00"/>
<rect x="132" y="198" width="1" height="1" fill="#00ff00"/>
<rect x="133" y="197" width="1" height="1" fill="#00ff00"/>
<rect x="134" y="198" width="1" height="1" fill="#00ff00"/>
<rect x="134" y="196" width="1" height="1" fill="#00ff00"/>
<rect x="135" y="199" width="1" height="1" fill="#00ff00"/>
<rect x="135" y="195" width="1" height="1" fill="#00ff00"/>
<rect x="119" y="197" width="1" height="1" fill="#00ff00"/>
<rect x="119" y="201" width="1" height="1" fill="#00ff00"/>
<rect x="120" y="198" width="1" height="1" fill="#00ff00"/>
<rect x="120" y="200" width="1" height="1" fill="#00ff00"/>
<rect x="121" y="199" width="1" height="1" fill="#00ff00"/>
<rect x="122" y="200" width="1" height="1" fill="#00ff00"/>
<rect x="122" y="198" width="1" height="1" fill="#00ff00"/>
<rect x="123" y="201" width="1" height="1" fill="#00ff00"/>
<rect x="123" y="197" width="1" height="1" fill="#00ff00"/>
<rect x="121" y="198" width="1" height="1" fill="#00ff00"/>
<rect x="121" y="202" width="1" height="1" fill="#00ff00"/>
<rect x="122" y="199" width="1" height="1" fill="#00ff00"/>
<rect x="122" y="201" width="1" height="1" fill="#00ff00"/>
<rect x="123" y="200" width="1" height="1" fill="#00ff00"/>
<rect x="124" y="201" width="1" height="1" fill="#00ff00"/>
<rect x="124" y="199" width="1" height="1" fill="#00ff00"/>
<rect x="125" y="202" width="1" height="1" fill="#00ff00"/>
<rect x="125" y="198" width="1" height="1" fill="#00ff00"/>
<rect x="130" y="202" width="1" height="1" fill="#00ff00"/>
<rect x="130" y="206" width="1" height="1" fill="#00ff00"/>
<rect x="131" y="203" width="1" height="1" fill="#00ff00"/>
<rect x="131" y="205" width="1" height="1" fill="#00ff00"/>
<rect x="132" y="204" width="1" height="1" fill="#00ff00"/>
<rect x="133" y="205" width="1" height="1" fill="#00ff00"/>
<rect x="133" y="203" width="1" height="1" fill="#00ff00"/>
<rect x="134" y="206" width="1" height="1" fill="#00ff00"/>
<rect x="134" y="202" width="1" height="1" fill="#00ff00"/>
<rect x="119" y="202" width="1" height="1" fill="#00ff00"/>
<rect x="119" y="206" width="1" height="1" fill="#00ff00"/>
<rect x="120" y="203" width="1" height="1" fill="#00ff00"/>
<rect x="120" y="205" width="1" height="1" fill="#00ff00"/>
<rect x="121" y="204" width="1" height="1" fill="#00ff00"/>
<rect x="122" y="205" width="1" height="1" fill="#00ff00"/>
<rect x="122" y="203" width="1" height="1" fill="#00ff00"/>
<rect x="123" y="206" width="1" height="1" fill="#00ff00"/>
<rect x="123" y="202" width="1" height="1" fill="#00ff00"/>
<rect x="121" y="203" width="1" height="1" fill="#00ff00"/>
<rect x="121" y="207" width="1" height="1" fill="#00ff00"/>
<rect x="122" y="204" width="1" height="1" fill="#00ff00"/>
<rect x="122" y="206" width="1" height="1" fill="#00ff00"/>
<rect x="123" y="205" width="1" height="1" fill="#00ff00"/>
<rect x="124" y="206" width="1" height="1" fill="#00ff00"/>
<rect x="124" y="204" width="1" height="1" fill="#00ff00"/>
<rect x="125" y="207" width="1" height="1" fill="#00ff00"/>
<rect x="125" y="203" width="1" height="1" fill="#00ff00"/>
<rect x="123" y="204" width="1" height="1" fill="#00ff00"/>
<rect x="123" y="208" width="1" height="1" fill="#00ff00"/>
<rect x="124" y="205" width="1" height="1" fill="#00ff00"/>
<rect x="124" y="207" width="1" height="1" fill="#00ff00"/>
<rect x="125" y="206" width="1" height="1" fill="#00ff00"/>
<rect x="126" y="207" width="1" height="1" fill="#00ff00"/>
<rect x="126" y="205" width="1" height="1" fill="#00ff00"/>
<rect x="127" y="208" width="1" height="1" fill="#00ff00"/>
<rect x="127" y="204" width="1" height="1" fill="#00ff00"/>
<rect x="125" y="205" width="1" height="1" fill="#00ff00"/>
<rect x="125" y="209" width="1" height="1" fill="#00ff00"/>
<rect x="126" y="206" width="1" height="1" fill="#00ff00"/>
<rect x="126" y="208" width="1" height="1" fill="#00ff00"/>
<rect x="127" y="207" width="1" height="1" fill="#00ff00"/>
<rect x="128" y="208" width="1" height="1" fill="#00ff00"/>
<rect x="128" y="206" width="1" height="1" fill="#00ff00"/>
<rect x="129" y="209" width="1" height="1" fill="#00ff00"/>
<rect x="129" y="205" width="1" height="1" fill="#00ff00"/>
<rect x="127" y="204" width="1" height="1" fill="#00ff00"/>
<rect x="127" y="208" width="1" height="1" fill="#00ff00"/>
<rect x="128" y="205" width="1" height="1" fill="#00ff00"/>
<rect x="128" y="207" width="1" height="1" fill="#00ff00"/>
<rect x="129" y="206" width="1" height="1" fill="#00ff00"/>
<rect x="130" y="207" width="1" height="1" fill="#00ff00"/>
<rect x="130" y="205" width="1" height="1" fill="#00ff00"/>
<rect x="131" y="208" width="1" height="1" fill="#00ff00"/>
<rect x="131" y="204" width="1" height="1" fill="#00ff00"/>
<rect x="129" y="205" width="1" height="1" fill="#00ff00"/>
<rect x="129" y="209" width="1" height="1" fill="#00ff00"/>
<rect x="130" y="206" width="1" height="1" fill="#00ff00"/>
<rect x="130" y="208" width="1" height="1" fill="#00ff00"/>
<rect x="131" y="207" width="1" height="1" fill="#00ff00"/>
<rect x="132" y="208" width="1" height="1" fill="#00ff00"/>
<rect x="132" y="206" width="1" height="1" fill="#00ff00"/>
<rect x="133" y="209" width="1" height="1" fill="#00ff00"/>
<rect x="133" y="205" width="1" height="1" fill="#00ff00"/>
<rect x="118" y="206" width="1" height="1" fill="#00ff00"/>
<rect x="118" y="210" width="1" height="1" fill="#00ff00"/>
<rect x="119" y="207" width="1" height="1" fill="#00ff00"/>
<rect x="119" y="209" width="1" height="1" fill="#00ff00"/>
<rect x="120" y="208" width="1" height="1" fill="#00ff00"/>
<rect x="121" y="209" width="1" height="1" fill="#00ff00"/>
<rect x="121" y="207" width="1" height="1" fill="#00ff00"/>
<rect x="122" y="210" width="1" height="1" fill="#00ff00"/>
<rect x="122" y="206" width="1" height="1" fill="#00ff00"/>
<rect x="120" y="208" width="1" height="1" fill="#00ff00"/>
<rect x="120" y="212" width="1" height="1" fill="#00ff00"/>
<rect x="121" y="209" width="1" height="1" fill="#00ff00"/>
<rect x="121" y="211" width="1" height="1" fill="#00ff00"/>
<rect x="122" y="210" width="1" height="1" fill="#00ff00"/>
<rect x="123" y="211" width="1" height="1" fill="#00ff00"/>
<rect x="123" y="209" width="1" height="1" fill="#00ff00"/>
<rect x="124" y="212" width="1" height="1" fill="#00ff00"/>
<rect x="124" y="208" width="1" height="1" fill="#00ff00"/>
<rect x="122" y="208" width="1" height="1" fill="#00ff00"/>
<rect x="122" y="212" width="1" height="1" fill="#00ff00"/>
<rect x="123" y="209" width="1" height="1" fill="#00ff00"/>
<rect x="123" y="211" width="1" height="1" fill="#00ff00"/>
<rect x="124" y="210" width="1" height="1" fill="#00ff00"/>
<rect x="125" y="211" width="1" height="1" fill="#00ff00"/>
<rect x="125" y="209" width="1" height="1" fill="#00ff00"/>
<rect x="126" y="212" width="1" height="1" fill="#00ff00"/>
<rect x="126" y="208" width="1" height="1" fill="#00ff00"/>
<rect x="124" y="207" width="1" height="1" fill="#00ff00"/>
<rect x="124" y="211" width="1" height="1" fill="#00ff00"/>
<rect x="125" y="208" width="1" height="1" fill="#00ff00"/>
<rect x="125" y="210" width="1" height="1" fill="#00ff00"/>
<rect x="126" y="209" width="1" height="1" fill="#00ff00"/>
<rect x="127" y="210" width="1" height="1" fill="#00ff00"/>
<rect x="127" y="208" width="1" height="1" fill="#00ff00"/>
<rect x="128" y="211" width="1" height="1" fill="#00ff00"/>
<rect x="128" y="207" width="1" height="1" fill="#00ff00"/>
<rect x="126" y="208" width="1" height="1" fill="#00ff00"/>
<rect x="126" y="212" width="1" height="1" fill="#00ff00"/>
<rect x="127" y="209" width="1" height="1" fill="#00ff00"/>
<rect x="127" y="211" width="1" height="1" fill="#00ff00"/>
<rect x="128" y="210" width="1" height="1" fill="#00ff00"/>
<rect x="129" y="211" width="1" height="1" fill="#00ff00"/>
<rect x="129" y="209" width="1" height="1" fill="#00ff00"/>
<rect x="130" y="212" width="1" height="1" fill="#00ff00"/>
<rect x="130" y="208" width="1" height="1" fill="#00ff00"/>
<rect x="128" y="207" width="1" height="1" fill="#00ff00"/>
<rect x="128" y="211" width="1" height="1" fill="#00ff00"/>
<rect x="129" y="208" width="1" height="1" fill="#00ff00"/>
<rect x="129" y="210" width="1" height="1" fill="#00ff00"/>
<rect x="130" y="209" width="1" height="1" fill="#00ff00"/>
<rect x="131" y="210" width="1" height="1" fill="#00ff00"/>
<rect x="131" y="208" width="1" height="1" fill="#00ff00"/>
<rect x="132" y="211" width="1" height="1" fill="#00ff00"/>
<rect x="132" y="207" width="1" height="1" fill="#00ff00"/>
<rect x="130" y="207" width="1" height="1" fill="#00ff00"/>
<rect x="130" y="211" width="1" height="1" fill="#00ff00"/>
<rect x="131" y="208" width="1" height="1" fill="#00ff00"/>
<rect x="131" y="210" width="1" height="1" fill="#00ff00"/>
<rect x="132" y="209" width="1" height="1" fill="#00ff00"/>
<rect x="133" y="210" width="1" height="1" fill="#00ff00"/>
<rect x="133" y="208" width="1" height="1" fill="#00ff00"/>
<rect x="134" y="211" width="1" height="1" fill="#00ff00"/>
<rect x="134" y="207" width="1" height="1" fill="#00ff00"/>
<rect x="123" y="208" width="1" height="1" fill="#00ff00"/>
<rect x="123" y="212" width="1" height="1" fill="#00ff00"/>
<rect x="124" y="209" width="1" height="1" fill="#00ff00"/>
<rect x="124" y="211" width="1" height="1" fill="#00ff00"/>
<rect x="125" y="210" width="1" height="1" fill="#00ff00"/>
<rect x="126" y="211" width="1" height="1" fill="#00ff00"/>
<rect x="126" y="209" width="1" height="1" fill="#00ff00"/>
<rect x="127" y="212" width="1" height="1" fill="#00ff00"/>
<rect x="127" y="208" width="1" height="1" fill="#00ff00"/>
<rect x="125" y="208" width="1" height="1" fill="#00ff00"/>
<rect x="125" y="212" width="1" height="1" fill="#00ff00"/>
<rect x="126" y="209" width="1" height="1" fill="#00ff00"/>
<rect x="126" y="211" width="1" height="1" fill="#00ff00"/>
<rect x="127" y="210" width="1" height="1" fill="#00ff00"/>
<rect x="128" y="211" width="1" height="1" fill="#00ff00"/>
<rect x="128" y="209" width="1" height="1" fill="#00ff00"/>
<rect x="129" y="212" width="1" height="1" fill="#00ff00"/>
<rect x="129" y="208" width="1" height="1" fill="#00ff00"/>
<rect x="127" y="208" width="1" height="1" fill="#00ff00"/>
<rect x="127" y="212" width="1" height="1" fill="#00ff00"/>
<rect x="128" y="209" width="1" height="1" fill="#00ff00"/>
<rect x="128" y="211" width="1" height="1" fill="#00ff00"/>
<rect x="129" y="210" width="1" height="1" fill="#00ff00"/>
<rect x="130" y="211" width="1" height="1" fill="#00ff00"/>
<rect x="130" y="209" width="1" height="1" fill="#00ff00"/>
<rect x="131" y="212" width="1" height="1" fill="#00ff00"/>
<rect x="131" y="208" width="1" height="1" fill="#00ff00"/>
<rect x="129" y="208" width="1" height="1" fill="#00ff00"/>
<rect x="129" y="212" width="1" height="1" fill="#00ff00"/>
<rect x="130" y="209" width="1" height="1" fill="#00ff00"/>
<rect x="130" y="211" width="1" height="1" fill="#00ff00"/>
<rect x="131" y="210" width="1" height="1" fill="#00ff00"/>
<rect x="132" y="211" width="1" height="1" fill="#00ff00"/>
<rect x="132" y="209" width="1" height="1" fill="#00ff00"/>
<rect x="133" y="212" width="1" height="1" fill="#00ff00"/>
<rect x="133" y="208" width="1" height="1" fill="#00ff00"/>
<rect x="130" y="206" width="1" height="1" fill="#00ff00"/>
<rect x="130" y="210" width="1" height="1" fill="#00ff00"/>
<rect x="131" y="207" width="1" height="1" fill="#00ff00"/>
<rect x="131" y="209" width="1" height="1" fill="#00ff00"/>
<rect x="132" y="208" width="1" height="1" fill="#00ff00"/>
<rect x="133" y="209" width="1" height="1" fill="#00ff00"/>
<rect x="133" y="207" width="1" height="1" fill="#00ff00"/>
<rect x="134" y="210" width="1" height="1" fill="#00ff00"/>
<rect x="134" y="206" width="1" height="1" fill="#00ff00"/>
<rect x="124" y="203" width="1" height="1" fill="#00ff00"/>
<rect x="124" y="207" width="1" height="1" fill="#00ff00"/>
<rect x="125" y="204" width="1" height="1" fill="#00ff00"/>
<rect x="125" y="206" width="1" height="1" fill="#00ff00"/>
<rect x="126" y="205" width="1" height="1" fill="#00ff00"/>
<rect x="127" y="206" width="1" height="1" fill="#00ff00"/>
<rect x="127" y="204" width="1" height="1" fill="#00ff00"/>
<rect x="128" y="207" width="1" height="1" fill="#00ff00"/>
<rect x="128" y="203" width="1" height="1" fill="#00ff00"/>
<rect x="126" y="203" width="1" height="1" fill="#00ff00"/>
<rect x="126" y="207" width="1" height="1" fill="#00ff00"/>
<rect x="127" y="204" width="1" height="1" fill="#00ff00"/>
<rect x="127" y="206" width="1" height="1" fill="#00ff00"/>
<rect x="128" y="205" width="1" height="1" fill="#00ff00"/>
<rect x="129" y="206" width="1" height="1" fill="#00ff00"/>
<rect x="129" y="204" width="1" height="1" fill="#00ff00"/>
<rect x="130" y="207" width="1" height="1" fill="#00ff00"/>
<rect x="130" y="203" width="1" height="1" fill="#00ff00"/>
<rect x="128" y="202" width="1" height="1" fill="#00ff00"/>
<rect x="128" y="206" width="1" height="1" fill="#00ff00"/>
<rect x="129" y="203" width="1" height="1" fill="#00ff00"/>
<rect x="129" y="205" width="1" height="1" fill="#00ff00"/>
<rect x="130" y="204" width="1" height="1" fill="#00ff00"/>
<rect x="131" y="205" width="1" height="1" fill="#00ff00"/>
<rect x="131" y="203" width="1" height="1" fill="#00ff00"/>
<rect x="132" y="206" width="1" height="1" fill="#00ff00"/>
<rect x="132" y="202" width="1" height="1" fill="#00ff00"/>
<rect x="118" y="194" width="1" height="1" fill="#00ff00"/>
<rect x="118" y="198" width="1" height="1" fill="#00ff00"/>
<rect x="119" y="195" width="1" height="1" fill="#00ff00"/>
<rect x="119" y="197" width="1" height="1" fill="#00ff00"/>
<rect x="120" y="196" width="1" height="1" fill="#00ff00"/>
<rect x="121" y="197" width="1" height="1" fill="#00ff00"/>
<rect x="121" y="195" width="1" height="1" fill="#00ff00"/>
<rect x="122" y="198" width="1" height="1" fill="#00ff00"/>
<rect x="122" y="194" width="1" height="1" fill="#00ff00"/>
<rect x="122" y="191" width="1" height="1" fill="#00ff00"/>
<rect x="122" y="195" width="1" height="1" fill="#00ff00"/>
<rect x="123" y="192" width="1" height="1" fill="#00ff00"/>
<rect x="123" y="194" width="1" height="1" fill="#00ff00"/>
<rect x="124" y="193" width="1" height="1" fill="#00ff00"/>
<rect x="125" y="194" width="1" height="1" fill="#00ff00"/>
<rect x="125" y="192" width="1" height="1" fill="#00ff00"/>
<rect x="126" y="195" width="1" height="1" fill="#00ff00"/>
<rect x="126" y="191" width="1" height="1" fill="#00ff00"/>
<rect x="125" y="188" width="1" height="1" fill="#00ff00"/>
<rect x="125" y="192" width="1" height="1" fill="#00ff00"/>
<rect x="126" y="189" width="1" height="1" fill="#00ff00"/>
<rect x="126" y="191" width="1" height="1" fill="#00ff00"/>
<rect x="127" y="190" width="1" height="1" fill="#00ff00"/>
<rect x="128" y="191" width="1" height="1" fill="#00ff00"/>
<rect x="128" y="189" width="1" height="1" fill="#00ff00"/>
<rect x="129" y="192" width="1" height="1" fill="#00ff00"/>
<rect x="129" y="188" width="1" height="1" fill="#00ff00"/>
<rect x="127" y="192" width="1" height="1" fill="#00ff00"/>
<rect x="127" y="196" width="1" height="1" fill="#00ff00"/>
<rect x="128" y="193" width="1" height="1" fill="#00ff00"/>
<rect x="128" y="195" width="1" height="1" fill="#00ff00"/>
<rect x="129" y="194" width="1" height="1" fill="#00ff00"/>
<rect x="130" y="195" width="1" height="1" fill="#00ff00"/>
<rect x="130" y="193" width="1" height="1" fill="#00ff00"/>
<rect x="131" y="196" width="1" height="1" fill="#00ff00"/>
<rect x="131" y="192" width="1" height="1" fill="#00ff00"/>
<rect x="120" y="199" width="1" height="1" fill="#00ff00"/>
<rect x="120" y="203" width="1" height="1" fill="#00ff00"/>
<rect x="121" y="200" width="1" height="1" fill="#00ff00"/>
<rect x="121" y="202" width="1" height="1" fill="#00ff00"/>
<rect x="122" y="201" width="1" height="1" fill="#00ff00"/>
<rect x="123" y="202" width="1" height="1" fill="#00ff00"/>
<rect x="123" y="200" width="1" height="1" fill="#00ff00"/>
<rect x="124" y="203" width="1" height="1" fill="#00ff00"/>
<rect x="124" y="199" width="1" height="1" fill="#00ff00"/>
<rect x="123" y="198" width="1" height="1" fill="#00ff00"/>
<rect x="123" y="202" width="1" height="1" fill="#00ff00"/>
<rect x="124" y="199" width="1" height="1" fill="#00ff00"/>
<rect x="124" y="201" width="1" height="1" fill="#00ff00"/>
<rect x="125" y="200" width="1" height="1" fill="#00ff00"/>
<rect x="126" y="201" width="1" height="1" fill="#00ff00"/>
<rect x="126" y="199" width="1" height="1" fill="#00ff00"/>
<rect x="127" y="202" width="1" height="1" fill="#00ff00"/>
<rect x="127" y="198" width="1" height="1" fill="#00ff00"/>
<rect x="126" y="204" width="1" height="1" fill="#00ff00"/>
<rect x="126" y="208" width="1" height="1" fill="#00ff00"/>
<rect x="127" y="205" width="1" height="1" fill="#00ff00"/>
<rect x="127" y="207" width="1" height="1" fill="#00ff00"/>
<rect x="128" y="206" width="1" height="1" fill="#00ff00"/>
<rect x="129" y="207" width="1" height="1" fill="#00ff00"/>
<rect x="129" y="205" width="1" height="1" fill="#00ff00"/>
<rect x="130" y="208" width="1" height="1" fill="#00ff00"/>
<rect x="130" y="204" width="1" height="1" fill="#00ff00"/>
<rect x="129" y="207" width="1" height="1" fill="#00ff00"/>
<rect x="129" y="211" width="1" height="1" fill="#00ff00"/>
<rect x="130" y="208" width="1" height="1" fill="#00ff00"/>
<rect x="130" y="210" width="1" height="1" fill="#00ff00"/>
<rect x="131" y="209" width="1" height="1" fill="#00ff00"/>
<rect x="132" y="210" width="1" height="1" fill="#00ff00"/>
<rect x="132" y="208" width="1" height="1" fill="#00ff00"/>
<rect x="133" y="211" width="1" height="1" fill="#00ff00"/>
<rect x="133" y="207" width="1" height="1" fill="#00ff00"/>
<rect x="119" y="208" width="1" height="1" fill="#00ff00"/>
<rect x="119" y="212" width="1" height="1" fill="#00ff00"/>
<rect x="120" y="209" width="1" height="1" fill="#00ff00"/>
<rect x="120" y="211" width="1" height="1" fill="#00ff00"/>
<rect x="121" y="210" width="1" height="1" fill="#00ff00"/>
<rect x="122" y="211" width="1" height="1" fill="#00ff00"/>
<rect x="122" y="209" width="1" height="1" fill="#00ff00"/>
<rect x="123" y="212" width="1" height="1" fill="#00ff00"/>
<rect x="123" y="208" width="1" height="1" fill="#00ff00"/>
<rect x="117" y="202" width="1" height="1" fill="#00ff00"/>
<rect x="117" y="206" width="1" height="1" fill="#00ff00"/>
<rect x="118" y="203" width="1" height="1" fill="#00ff00"/>
<rect x="118" y="205" width="1" height="1" fill="#00ff00"/>
<rect x="119" y="204" width="1" height="1" fill="#00ff00"/>
<rect x="120" y="205" width="1" height="1" fill="#00ff00"/>
<rect x="120" y="203" width="1" height="1" fill="#00ff00"/>
<rect x="121" y="206" width="1" height="1" fill="#00ff00"/>
<rect x="121" y="202" width="1" height="1" fill="#00ff00"/>
<rect x="123" y="201" width="1" height="1" fill="#00ff00"/>
<rect x="123" y="205" width="1" height="1" fill="#00ff00"/>
<rect x="124" y="202" width="1" height="1" fill="#00ff00"/>
<rect x="124" y="204" width="1" height="1" fill="#00ff00"/>
<rect x="125" y="203" width="1" height="1" fill="#00ff00"/>
<rect x="126" y="204" width="1" height="1" fill="#00ff00"/>
<rect x="126" y="202" width="1" height="1" fill="#00ff00"/>
<rect x="127" y="205" width="1" height="1" fill="#00ff00"/>
<rect x="127" y="201" width="1" height="1" fill="#00ff00"/>
<rect x="316" y="76" width="1" height="1" fill="#00ff00"/>
<rect x="316" y="80" width="1" height="1" fill="#00ff00"/>
<rect x="317" y="77" width="1" height="1" fill="#00ff00"/>
<rect x="317" y="79" width="1" height="1" fill="#00ff00"/>
<rect x="318" y="78" width="1" height="1" fill="#00ff00"/>
<rect x="319" y="79" width="1" height="1" fill="#00ff00"/>
<rect x="319" y="77" width="1" height="1" fill="#00ff00"/>
<rect x="320" y="80" width="1" height="1" fill="#00ff00"/>
<rect x="320" y="76" width="1" height="1" fill="#00ff00"/>
<rect x="322" y="80" width="1" height="1" fill="#00ff00"/>
<rect x="322" y="84" width="1" height="1" fill="#00ff00"/>
<rect x="323" y="81" width="1" height="1" fill="#00ff00"/>
<rect x="323" y="83" width="1" height="1" fill="#00ff00"/>
<rect x="324" y="82" width="1" height="1" fill="#00ff00"/>
<rect x="325" y="83" width="1" height="1" fill="#00ff00"/>
<rect x="325" y="81" width="1" height="1" fill="#00ff00"/>
<rect x="326" y="84" width="1" height="1" fill="#00ff00"/>
<rect x="326" y="80" width="1" height="1" fill="#00ff00"/>
<rect x="315" y="95" width="1" height="1" fill="#00ff00"/>
<rect x="315" y="99" width="1" height="1" fill="#00ff00"/>
<rect x="316" y="96" width="1" height="1" fill="#00ff00"/>
<rect x="316" y="98" width="1" height="1" fill="#00ff00"/>
<rect x="317" y="97" width="1" height="1" fill="#00ff00"/>
<rect x="318" y="98" width="1" height="1" fill="#00ff00"/>
<rect x="318" y="96" width="1" height="1" fill="#00ff00"/>
<rect x="319" y="99" width="1" height="1" fill="#00ff00"/>
<rect x="319" y="95" width="1" height="1" fill="#00ff00"/>
<rect x="322" y="93" width="1" height="1" fill="#00ff00"/>
<rect x="322" y="97" width="1" height="1" fill="#00ff00"/>
<rect x="323" y="94" width="1" height="1" fill="#00ff00"/>
<rect x="323" y="96" width="1" height="1" fill="#00ff00"/>
<rect x="324" y="95" width="1" height="1" fill="#00ff00"/>
<rect x="325" y="96" width="1" height="1" fill="#00ff00"/>
<rect x="325" y="94" width="1" height="1" fill="#00ff00"/>
<rect x="326" y="97" width="1" height="1" fill="#00ff00"/>
<rect x="326" y="93" width="1" height="1" fill="#00ff00"/>
<rect x="322" y="98" width="1" height="1" fill="#00ff00"/>
<rect x="322" y="102" width="1" height="1" fill="#00ff00"/>
<rect x="323" y="99" width="1" height="1" fill="#00ff00"/>
<rect x="323" y="101" width="1" height="1" fill="#00ff00"/>
<rect x="324" y="100" width="1" height="1" fill="#00ff00"/>
<rect x="325" y="101" width="1" height="1" fill="#00ff00"/>
<rect x="325" y="99" width="1" height="1" fill="#00ff00"/>
<rect x="326" y="102" width="1" height="1" fill="#00ff00"/>
<rect x="326" y="98" width="1" height="1" fill="#00ff00"/>
<rect x="322" y="108" width="1" height="1" fill="#00ff00"/>
<rect x="322" y="112" width="1" height="1" fill="#00ff00"/>
<rect x="323" y="109" width="1" height="1" fill="#00ff00"/>
<rect x="323" y="111" width="1" height="1" fill="#00ff00"/>
<rect x="324" y="110" width="1" height="1" fill="#00ff00"/>
<rect x="325" y="111" width="1" height="1" fill="#00ff00"/>
<rect x="325" y="109" width="1" height="1" fill="#00ff00"/>
<rect x="326" y="112" width="1" height="1" fill="#00ff00"/>
<rect x="326" y="108" width="1" height="1" fill="#00ff00"/>
<rect x="321" y="113" width="1" height="1" fill="#00ff00"/>
<rect x="321" y="117" width="1" height="1" fill="#00ff00"/>
<rect x="322" y="114" width="1" height="1" fill="#00ff00"/>
<rect x="322" y="116" width="1" height="1" fill="#00ff00"/>
<rect x="323" y="115" width="1" height="1" fill="#00ff00"/>
<rect x="324" y="116" width="1" height="1" fill="#00ff00"/>
<rect x="324" y="114" width="1" height="1" fill="#00ff00"/>
<rect x="325" y="117" width="1" height="1" fill="#00ff00"/>
<rect x="325" y="113" width="1" height="1" fill="#00ff00"/>
<rect x="323" y="112" width="1" height="1" fill="#00ff00"/>
<rect x="323" y="116" width="1" height="1" fill="#00ff00"/>
<rect x="324" y="113" width="1" height="1" fill="#00ff00"/>
<rect x="324" y="115" width="1" height="1" fill="#00ff00"/>
<rect x="325" y="114" width="1" height="1" fill="#00ff00"/>
<rect x="326" y="115" width="1" height="1" fill="#00ff00"/>
<rect x="326" y="113" width="1" height="1" fill="#00ff00"/>
<rect x="327" y="116" width="1" height="1" fill="#00ff00"/>
<rect x="327" y="112" width="1" height="1" fill="#00ff00"/>
<rect x="324" y="115" width="1" height="1" fill="#00ff00"/>
<rect x="324" y="119" width="1" height="1" fill="#00ff00"/>
<rect x="325" y="116" width="1" height="1" fill="#00ff00"/>
<rect x="325" y="118" width="1" height="1" fill="#00ff00"/>
<rect x="326" y="117" width="1" height="1" fill="#00ff00"/>
<rect x="327" y="118" width="1" height="1" fill="#00ff00"/>
<rect x="327" y="116" width="1" height="1" fill="#00ff00"/>
<rect x="328" y="119" width="1" height="1" fill="#00ff00"/>
<rect x="328" y="115" width="1" height="1" fill="#00ff00"/>
<rect x="324" y="120" width="1" height="1" fill="#00ff00"/>
<rect x="324" y="124" width="1" height="1" fill="#00ff00"/>
<rect x="325" y="121" width="1" height="1" fill="#00ff00"/>
<rect x="325" y="123" width="1" height="1" fill="#00ff00"/>
<rect x="326" y="122" width="1" height="1" fill="#00ff00"/>
<rect x="327" y="123" width="1" height="1" fill="#00ff00"/>
<rect x="327" y="121" width="1" height="1" fill="#00ff00"/>
<rect x="328" y="124" width="1" height="1" fill="#00ff00"/>
<rect x="328" y="120" width="1" height="1" fill="#00ff00"/>
<rect x="316" y="130" width="1" height="1" fill="#00ff00"/>
<rect x="316" y="134" width="1" height="1" fill="#00ff00"/>
<rect x="317" y="131" width="1" height="1" fill="#00ff00"/>
<rect x="317" y="133" width="1" height="1" fill="#00ff00"/>
<rect x="318" y="132" width="1" height="1" fill="#00ff00"/>
<rect x="319" y="133" width="1" height="1" fill="#00ff00"/>
<rect x="319" y="131" width="1" height="1" fill="#00ff00"/>
<rect x="320" y="134" width="1" height="1" fill="#00ff00"/>
<rect x="320" y="130" width="1" height="1" fill="#00ff00"/>
<rect x="318" y="132" width="1" height="1" fill="#00ff00"/>
<rect x="318" y="136" width="1" height="1" fill="#00ff00"/>
<rect x="319" y="133" width="1" height="1" fill="#00ff00"/>
<rect x="319" y="135" width="1" height="1" fill="#00ff00"/>
<rect x="320" y="134" width="1" height="1" fill="#00ff00"/>
<rect x="321" y="135" width="1" height="1" fill="#00ff00"/>
<rect x="321" y="133" width="1" height="1" fill="#00ff00"/>
<rect x="322" y="136" width="1" height="1" fill="#00ff00"/>
<rect x="322" y="132" width="1" height="1" fill="#00ff00"/>
<rect x="315" y="134" width="1" height="1" fill="#00ff00"/>
<rect x="315" y="138" width="1" height="1" fill="#00ff00"/>
<rect x="316" y="135" width="1" height="1" fill="#00ff00"/>
<rect x="316" y="137" width="1" height="1" fill="#00ff00"/>
<rect x="317" y="136" width="1" height="1" fill="#00ff00"/>
<rect x="318" y="137" width="1" height="1" fill="#00ff00"/>
<rect x="318" y="135" width="1" height="1" fill="#00ff00"/>
<rect x="319" y="138" width="1" height="1" fill="#00ff00"/>
<rect x="319" y="134" width="1" height="1" fill="#00ff00"/>
<rect x="320" y="129" width="1" height="1" fill="#00ff00"/>
<rect x="320" y="133" width="1" height="1" fill="#00ff00"/>
<rect x="321" y="130" width="1" height="1" fill="#00ff00"/>
<rect x="321" y="132" width="1" height="1" fill="#00ff00"/>
<rect x="322" y="131" width="1" height="1" fill="#00ff00"/>
<rect x="323" y="132" width="1" height="1" fill="#00ff00"/>
<rect x="323" y="130" width="1" height="1" fill="#00ff00"/>
<rect x="324" y="133" width="1" height="1" fill="#00ff00"/>
<rect x="324" y="129" width="1" height="1" fill="#00ff00"/>
<rect x="324" y="132" width="1" height="1" fill="#00ff00"/>
<rect x="324" y="136" width="1" height="1" fill="#00ff00"/>
<rect x="325" y="133" width="1" height="1" fill="#00ff00"/>
<rect x="325" y="135" width="1" height="1" fill="#00ff00"/>
<rect x="326" y="134" width="1" height="1" fill="#00ff00"/>
<rect x="327" y="135" width="1" height="1" fill="#00ff00"/>
<rect x="327" y="133" width="1" height="1" fill="#00ff00"/>
<rect x="328" y="136" width="1" height="1" fill="#00ff00"/>
<rect x="328" y="132" width="1" height="1" fill="#00ff00"/>
<rect x="318" y="136" width="1" height="1" fill="#00ff00"/>
<rect x="318" y="140" width="1" height="1" fill="#00ff00"/>
<rect x="319" y="137" width="1" height="1" fill="#00ff00"/>
<rect x="319" y="139" width="1" height="1" fill="#00ff00"/>
<rect x="320" y="138" width="1" height="1" fill="#00ff00"/>
<rect x="321" y="139" width="1" height="1" fill="#00ff00"/>
<rect x="321" y="137" width="1" height="1" fill="#00ff00"/>
<rect x="322" y="140" width="1" height="1" fill="#00ff00"/>
<rect x="322" y="136" width="1" height="1" fill="#00ff00"/>
<rect x="339" y="141" width="1" height="1" fill="#00ff00"/>
<rect x="339" y="145" width="1" height="1" fill="#00ff00"/>
<rect x="340" y="142" width="1" height="1" fill="#00ff00"/>
<rect x="340" y="144" width="1" height="1" fill="#00ff00"/>
<rect x="341" y="143" width="1" height="1" fill="#00ff00"/>
<rect x="342" y="144" width="1" height="1" fill="#00ff00"/>
<rect x="342" y="142" width="1" height="1" fill="#00ff00"/>
<rect x="343" y="145" width="1" height="1" fill="#00ff00"/>
<rect x="343" y="141" width="1" height="1" fill="#00ff00"/>
<rect x="320" y="169" width="1" height="1" fill="#00ff00"/>
<rect x="320" y="173" width="1" height="1" fill="#00ff00"/>
<rect x="321" y="170" width="1" height="1" fill="#00ff00"/>
<rect x="321" y="172" width="1" height="1" fill="#00ff00"/>
<rect x="322" y="171" width="1" height="1" fill="#00ff00"/>
<rect x="323" y="172" width="1" height="1" fill="#00ff00"/>
<rect x="323" y="170" width="1" height="1" fill="#00ff00"/>
<rect x="324" y="173" width="1" height="1" fill="#00ff00"/>
<rect x="324" y="169" width="1" height="1" fill="#00ff00"/>
<rect x="316" y="176" width="1" height="1" fill="#00ff00"/>
<rect x="316" y="180" width="1" height="1" fill="#00ff00"/>
<rect x="317" y="177" width="1" height="1" fill="#00ff00"/>
<rect x="317" y="179" width="1" height="1" fill="#00ff00"/>
<rect x="318" y="178" width="1" height="1" fill="#00ff00"/>
<rect x="319" y="179" width="1" height="1" fill="#00ff00"/>
<rect x="319" y="177" width="1" height="1" fill="#00ff00"/>
<rect x="320" y="180" width="1" height="1" fill="#00ff00"/>
<rect x="320" y="176" width="1" height="1" fill="#00ff00"/>
<rect x="321" y="178" width="1" height="1" fill="#00ff00"/>
<rect x="321" y="182" width="1" height="1" fill="#00ff00"/>
<rect x="322" y="179" width="1" height="1" fill="#00ff00"/>
<rect x="322" y="181" width="1" height="1" fill="#00ff00"/>
<rect x="323" y="180" width="1" height="1" fill="#00ff00"/>
<rect x="324" y="181" width="1" height="1" fill="#00ff00"/>
<rect x="324" y="179" width="1" height="1" fill="#00ff00"/>
<rect x="325" y="182" width="1" height="1" fill="#00ff00"/>
<rect x="325" y="178" width="1" height="1" fill="#00ff00"/>
<rect x="322" y="179" width="1" height="1" fill="#00ff00"/>
<rect x="322" y="183" width="1" height="1" fill="#00ff00"/>
<rect x="323" y="180" width="1" height="1" fill="#00ff00"/>
<rect x="323" y="182" width="1" height="1" fill="#00ff00"/>
<rect x="324" y="181" width="1" height="1" fill="#00ff00"/>
<rect x="325" y="182" width="1" height="1" fill="#00ff00"/>
<rect x="325" y="180" width="1" height="1" fill="#00ff00"/>
<rect x="326" y="183" width="1" height="1" fill="#00ff00"/>
<rect x="326" y="179" width="1" height="1" fill="#00ff00"/>
<rect x="315" y="184" width="1" height="1" fill="#00ff00"/>
<rect x="315" y="188" width="1" height="1" fill="#00ff00"/>
<rect x="316" y="185" width="1" height="1" fill="#00ff00"/>
<rect x="316" y="187" width="1" height="1" fill="#00ff00"/>
<rect x="317" y="186" width="1" height="1" fill="#00ff00"/>
<rect x="318" y="187" width="1" height="1" fill="#00ff00"/>
<rect x="318" y="185" width="1" height="1" fill="#00ff00"/>
<rect x="319" y="188" width="1" height="1" fill="#00ff00"/>
<rect x="319" y="184" width="1" height="1" fill="#00ff00"/>
<rect x="337" y="184" width="1" height="1" fill="#00ff00"/>
<rect x="337" y="188" width="1" height="1" fill="#00ff00"/>
<rect x="338" y="185" width="1" height="1" fill="#00ff00"/>
<rect x="338" y="187" width="1" height="1" fill="#00ff00"/>
<rect x="339" y="186" width="1" height="1" fill="#00ff00"/>
<rect x="340" y="187" width="1" height="1" fill="#00ff00"/>
<rect x="340" y="185" width="1" height="1" fill="#00ff00"/>
<rect x="341" y="188" width="1" height="1" fill="#00ff00"/>
<rect x="341" y="184" width="1" height="1" fill="#00ff00"/>
<rect x="338" y="185" width="1" height="1" fill="#00ff00"/>
<rect x="338" y="189" width="1" height="1" fill="#00ff00"/>
<rect x="339" y="186" width="1" height="1" fill="#00ff00"/>
<rect x="339" y="188" width="1" height="1" fill="#00ff00"/>
<rect x="340" y="187" width="1" height="1" fill="#00ff00"/>
<rect x="341" y="188" width="1" height="1" fill="#00ff00"/>
<rect x="341" y="186" width="1" height="1" fill="#00ff00"/>
<rect x="342" y="189" width="1" height="1" fill="#00ff00"/>
<rect x="342" y="185" width="1" height="1" fill="#00ff00"/>
<rect x="321" y="185" width="1" height="1" fill="#00ff00"/>
<rect x="321" y="189" width="1" height="1" fill="#00ff00"/>
<rect x="322" y="186" width="1" height="1" fill="#00ff00"/>
<rect x="322" y="188" width="1" height="1" fill="#00ff00"/>
<rect x="323" y="187" width="1" height="1" fill="#00ff00"/>
<rect x="324" y="188" width="1" height="1" fill="#00ff00"/>
<rect x="324" y="186" width="1" height="1" fill="#00ff00"/>
<rect x="325" y="189" width="1" height="1" fill="#00ff00"/>
<rect x="325" y="185" width="1" height="1" fill="#00ff00"/>
<rect x="323" y="185" width="1" height="1" fill="#00ff00"/>
<rect x="323" y="189" width="1" height="1" fill="#00ff00"/>
<rect x="324" y="186" width="1" height="1" fill="#00ff00"/>
<rect x="324" y="188" width="1" height="1" fill="#00ff00"/>
<rect x="325" y="187" width="1" height="1" fill="#00ff00"/>
<rect x="326" y="188" width="1" height="1" fill="#00ff00"/>
<rect x="326" y="186" width="1" height="1" fill="#00ff00"/>
<rect x="327" y="189" width="1" height="1" fill="#00ff00"/>
<rect x="327" y="185" width="1" height="1" fill="#00ff00"/>
<rect x="325" y="186" width="1" height="1" fill="#00ff00"/>
<rect x="325" y="190" width="1" height="1" fill="#00ff00"/>
<rect x="326" y="187" width="1" height="1" fill="#00ff00"/>
<rect x="326" y="189" width="1" height="1" fill="#00ff00"/>
<rect x="327" y="188" width="1" height="1" fill="#00ff00"/>
<rect x="328" y="189" width="1" height="1" fill="#00ff00"/>
<rect x="328" y="187" width="1" height="1" fill="#00ff00"/>
<rect x="329" y="190" width="1" height="1" fill="#00ff00"/>
<rect x="329" y="186" width="1" height="1" fill="#00ff00"/>
<rect x="322" y="187" width="1" height="1" fill="#00ff00"/>
<rect x="322" y="191" width="1" height="1" fill="#00ff00"/>
<rect x="323" y="188" width="1" height="1" fill="#00ff00"/>
<rect x="323" y="190" width="1" height="1" fill="#00ff00"/>
<rect x="324" y="189" width="1" height="1" fill="#00ff00"/>
<rect x="325" y="190" width="1" height="1" fill="#00ff00"/>
<rect x="325" y="188" width="1" height="1" fill="#00ff00"/>
<rect x="326" y="191" width="1" height="1" fill="#00ff00"/>
<rect x="326" y="187" width="1" height="1" fill="#00ff00"/>
<rect x="324" y="188" width="1" height="1" fill="#00ff00"/>
<rect x="324" y="192" width="1" height="1" fill="#00ff00"/>
<rect x="325" y="189" width="1" height="1" fill="#00ff00"/>
<rect x="325" y="191" width="1" height="1" fill="#00ff00"/>
<rect x="326" y="190" width="1" height="1" fill="#00ff00"/>
<rect x="327" y="191" width="1" height="1" fill="#00ff00"/>
<rect x="327" y="189" width="1" height="1" fill="#00ff00"/>
<rect x="328" y="192" width="1" height="1" fill="#00ff00"/>
<rect x="328" y="188" width="1" height="1" fill="#00ff00"/>
<rect x="321" y="189" width="1" height="1" fill="#00ff00"/>
<rect x="321" y="193" width="1" height="1" fill="#00ff00"/>
<rect x="322" y="190" width="1" height="1" fill="#00ff00"/>
<rect x="322" y="192" width="1" height="1" fill="#00ff00"/>
<rect x="323" y="191" width="1" height="1" fill="#00ff00"/>
<rect x="324" y="192" width="1" height="1" fill="#00ff00"/>
<rect x="324" y="190" width="1" height="1" fill="#00ff00"/>
<rect x="325" y="193" width="1" height="1" fill="#00ff00"/>
<rect x="325" y="189" width="1" height="1" fill="#00ff00"/>
<rect x="323" y="190" width="1" height="1" fill="#00ff00"/>
<rect x="323" y="194" width="1" height="1" fill="#00ff00"/>
<rect x="324" y="191" width="1" height="1" fill="#00ff00"/>
<rect x="324" y="193" width="1" height="1" fill="#00ff00"/>
<rect x="325" y="192" width="1" height="1" fill="#00ff00"/>
<rect x="326" y="193" width="1" height="1" fill="#00ff00"/>
<rect x="326" y="191" width="1" height="1" fill="#00ff00"/>
<rect x="327" y="194" width="1" height="1" fill="#00ff00"/>
<rect x="327" y="190" width="1" height="1" fill="#00ff00"/>
<rect x="325" y="191" width="1" height="1" fill="#00ff00"/>
<rect x="325" y="195" width="1" height="1" fill="#00ff00"/>
<rect x="326" y="192" width="1" height="1" fill="#00ff00"/>
<rect x="326" y="194" width="1" height="1" fill="#00ff00"/>
<rect x="327" y="193" width="1" height="1" fill="#00ff00"/>
<rect x="328" y="194" width="1" height="1" fill="#00ff00"/>
<rect x="328" y="192" width="1" height="1" fill="#00ff00"/>
<rect x="329" y="195" width="1" height="1" fill="#00ff00"/>
<rect x="329" y="191" width="1" height="1" fill="#00ff00"/>
<rect x="322" y="192" width="1" height="1" fill="#00ff00"/>
<rect x="322" y="196" width="1" height="1" fill="#00ff00"/>
<rect x="323" y="193" width="1" height="1" fill="#00ff00"/>
<rect x="323" y="195" width="1" height="1" fill="#00ff00"/>
<rect x="324" y="194" width="1" height="1" fill="#00ff00"/>
<rect x="325" y="195" width="1" height="1" fill="#00ff00"/>
<rect x="325" y="193" width="1" height="1" fill="#00ff00"/>
<rect x="326" y="196" width="1" height="1" fill="#00ff00"/>
<rect x="326" y="192" width="1" height="1" fill="#00ff00"/>
<rect x="324" y="193" width="1" height="1" fill="#00ff00"/>
<rect x="324" y="197" width="1" height="1" fill="#00ff00"/>
<rect x="325" y="194" width="1" height="1" fill="#00ff00"/>
<rect x="325" y="196" width="1" height="1" fill="#00ff00"/>
<rect x="326" y="195" width="1" height="1" fill="#00ff00"/>
<rect x="327" y="196" width="1" height="1" fill="#00ff00"/>
<rect x="327" y="194" width="1" height="1" fill="#00ff00"/>
<rect x="328" y="197" width="1" height="1" fill="#00ff00"/>
<rect x="328" y="193" width="1" height="1" fill="#00ff00"/>
<rect x="315" y="189" width="1" height="1" fill="#00ff00"/>
<rect x="315" y="193" width="1" height="1" fill="#00ff00"/>
<rect x="316" y="190" width="1" height="1" fill="#00ff00"/>
<rect x="316" y="192" width="1" height="1" fill="#00ff00"/>
<rect x="317" y="191" width="1" height="1" fill="#00ff00"/>
<rect x="318" y="192" width="1" height="1" fill="#00ff00"/>
<rect x="318" y="190" width="1" height="1" fill="#00ff00"/>
<rect x="319" y="193" width="1" height="1" fill="#00ff00"/>
<rect x="319" y="189" width="1" height="1" fill="#00ff00"/>
<rect x="316" y="190" width="1" height="1" fill="#00ff00"/>
<rect x="316" y="194" width="1" height="1" fill="#00ff00"/>
<rect x="317" y="191" width="1" height="1" fill="#00ff00"/>
<rect x="317" y="193" width="1" height="1" fill="#00ff00"/>
<rect x="318" y="192" width="1" height="1" fill="#00ff00"/>
<rect x="319" y="193" width="1" height="1" fill="#00ff00"/>
<rect x="319" y="191" width="1" height="1" fill="#00ff00"/>
<rect x="320" y="194" width="1" height="1" fill="#00ff00"/>
<rect x="320" y="190" width="1" height="1" fill="#00ff00"/>
<rect x="315" y="191" width="1" height="1" fill="#00ff00"/>
<rect x="315" y="195" width="1" height="1" fill="#00ff00"/>
<rect x="316" y="192" width="1" height="1" fill="#00ff00"/>
<rect x="316" y="194" width="1" height="1" fill="#00ff00"/>
<rect x="317" y="193" width="1" height="1" fill="#00ff00"/>
<rect x="318" y="194" width="1" height="1" fill="#00ff00"/>
<rect x="318" y="192" width="1" height="1" fill="#00ff00"/>
<rect x="319" y="195" width="1" height="1" fill="#00ff00"/>
<rect x="319" y="191" width="1" height="1" fill="#00ff00"/>
<rect x="316" y="192" width="1" height="1" fill="#00ff00"/>
<rect x="316" y="196" width="1" height="1" fill="#00ff00"/>
<rect x="317" y="193" width="1" height="1" fill="#00ff00"/>
<rect x="317" y="195" width="1" height="1" fill="#00ff00"/>
<rect x="318" y="194" width="1" height="1" fill="#00ff00"/>
<rect x="319" y="195" width="1" height="1" fill="#00ff00"/>
<rect x="319" y="193" width="1" height="1" fill="#00ff00"/>
<rect x="320" y="196" width="1" height="1" fill="#00ff00"/>
<rect x="320" y="192" width="1" height="1" fill="#00ff00"/>
<rect x="318" y="190" width="1" height="1" fill="#00ff00"/>
<rect x="318" y="194" width="1" height="1" fill="#00ff00"/>
<rect x="319" y="191" width="1" height="1" fill="#00ff00"/>
<rect x="319" y="193" width="1" height="1" fill="#00ff00"/>
<rect x="320" y="192" width="1" height="1" fill="#00ff00"/>
<rect x="321" y="193" width="1" height="1" fill="#00ff00"/>
<rect x="321" y="191" width="1" height="1" fill="#00ff00"/>
<rect x="322" y="194" width="1" height="1" fill="#00ff00"/>
<rect x="322" y="190" width="1" height="1" fill="#00ff00"/>
<rect x="319" y="192" width="1" height="1" fill="#00ff00"/>
<rect x="319" y="196" width="1" height="1" fill="#00ff00"/>
<rect x="320" y="193" width="1" height="1" fill="#00ff00"/>
<rect x="320" y="195" width="1" height="1" fill="#00ff00"/>
<rect x="321" y="194" width="1" height="1" fill="#00ff00"/>
<rect x="322" y="195" width="1" height="1" fill="#00ff00"/>
<rect x="322" y="193" width="1" height="1" fill="#00ff00"/>
<rect x="323" y="196" width="1" height="1" fill="#00ff00"/>
<rect x="323" y="192" width="1" height="1" fill="#00ff00"/>
<rect x="316" y="205" width="1" height="1" fill="#00ff00"/>
<rect x="316" y="209" width="1" height="1" fill="#00ff00"/>
<rect x="317" y="206" width="1" height="1" fill="#00ff00"/>
<rect x="317" y="208" width="1" height="1" fill="#00ff00"/>
<rect x="318" y="207" width="1" height="1" fill="#00ff00"/>
<rect x="319" y="208" width="1" height="1" fill="#00ff00"/>
<rect x="319" y="206" width="1" height="1" fill="#00ff00"/>
<rect x="320" y="209" width="1" height="1" fill="#00ff00"/>
<rect x="320" y="205" width="1" height="1" fill="#00ff00"/>
<rect x="318" y="206" width="1" height="1" fill="#00ff00"/>
<rect x="318" y="210" width="1" height="1" fill="#00ff00"/>
<rect x="319" y="207" width="1" height="1" fill="#00ff00"/>
<rect x="319" y="209" width="1" height="1" fill="#00ff00"/>
<rect x="320" y="208" width="1" height="1" fill="#00ff00"/>
<rect x="321" y="209" width="1" height="1" fill="#00ff00"/>
<rect x="321" y="207" width="1" height="1" fill="#00ff00"/>
<rect x="322" y="210" width="1" height="1" fill="#00ff00"/>
<rect x="322" y="206" width="1" height="1" fill="#00ff00"/>
<rect x="320" y="206" width="1" height="1" fill="#00ff00"/>
<rect x="320" y="210" width="1" height="1" fill="#00ff00"/>
<rect x="321" y="207" width="1" height="1" fill="#00ff00"/>
<rect x="321" y="209" width="1" height="1" fill="#00ff00"/>
<rect x="322" y="208" width="1" height="1" fill="#00ff00"/>
<rect x="323" y="209" width="1" height="1" fill="#00ff00"/>
<rect x="323" y="207" width="1" height="1" fill="#00ff00"/>
<rect x="324" y="210" width="1" height="1" fill="#00ff00"/>
<rect x="324" y="206" width="1" height="1" fill="#00ff00"/>
<rect x="322" y="206" width="1" height="1" fill="#00ff00"/>
<rect x="322" y="210" width="1" height="1" fill="#00ff00"/>
<rect x="323" y="207" width="1" height="1" fill="#00ff00"/>
<rect x="323" y="209" width="1" height="1" fill="#00ff00"/>
<rect x="324" y="208" width="1" height="1" fill="#00ff00"/>
<rect x="325" y="209" width="1" height="1" fill="#00ff00"/>
<rect x="325" y="207" width="1" height="1" fill="#00ff00"/>
<rect x="326" y="210" width="1" height="1" fill="#00ff00"/>
<rect x="326" y="206" width="1" height="1" fill="#00ff00"/>
<rect x="324" y="205" width="1" height="1" fill="#00ff00"/>
<rect x="324" y="209" width="1" height="1" fill="#00ff00"/>
<rect x="325" y="206" width="1" height="1" fill="#00ff00"/>
<rect x="325" y="208" width="1" height="1" fill="#00ff00"/>
<rect x="326" y="207" width="1" height="1" fill="#00ff00"/>
<rect x="327" y="208" width="1" height="1" fill="#00ff00"/>
<rect x="327" y="206" width="1" height="1" fill="#00ff00"/>
<rect x="328" y="209" width="1" height="1" fill="#00ff00"/>
<rect x="328" y="205" width="1" height="1" fill="#00ff00"/>
<rect x="326" y="206" width="1" height="1" fill="#00ff00"/>
<rect x="326" y="210" width="1" height="1" fill="#00ff00"/>
<rect x="327" y="207" width="1" height="1" fill="#00ff00"/>
<rect x="327" y="209" width="1" height="1" fill="#00ff00"/>
<rect x="328" y="208" width="1" height="1" fill="#00ff00"/>
<rect x="329" y="209" width="1" height="1" fill="#00ff00"/>
<rect x="329" y="207" width="1" height="1" fill="#00ff00"/>
<rect x="330" y="210" width="1" height="1" fill="#00ff00"/>
<rect x="330" y="206" width="1" height="1" fill="#00ff00"/>
<rect x="317" y="207" width="1" height="1" fill="#00ff00"/>
<rect x="317" y="211" width="1" height="1" fill="#00ff00"/>
<rect x="318" y="208" width="1" height="1" fill="#00ff00"/>
<rect x="318" y="210" width="1" height="1" fill="#00ff00"/>
<rect x="319" y="209" width="1" height="1" fill="#00ff00"/>
<rect x="320" y="210" width="1" height="1" fill="#00ff00"/>
<rect x="320" y="208" width="1" height="1" fill="#00ff00"/>
<rect x="321" y="211" width="1" height="1" fill="#00ff00"/>
<rect x="321" y="207" width="1" height="1" fill="#00ff00"/>
<rect x="321" y="207" width="1" height="1" fill="#00ff00"/>
<rect x="321" y="211" width="1" height="1" fill="#00ff00"/>
<rect x="322" y="208" width="1" height="1" fill="#00ff00"/>
<rect x="322" y="210" width="1" height="1" fill="#00ff00"/>
<rect x="323" y="209" width="1" height="1" fill="#00ff00"/>
<rect x="324" y="210" width="1" height="1" fill="#00ff00"/>
<rect x="324" y="208" width="1" height="1" fill="#00ff00"/>
<rect x="325" y="211" width="1" height="1" fill="#00ff00"/>
<rect x="325" y="207" width="1" height="1" fill="#00ff00"/>
<rect x="325" y="207" width="1" height="1" fill="#00ff00"/>
<rect x="325" y="211" width="1" height="1" fill="#00ff00"/>
<rect x="326" y="208" width="1" height="1" fill="#00ff00"/>
<rect x="326" y="210" width="1" height="1" fill="#00ff00"/>
<rect x="327" y="209" width="1" height="1" fill="#00ff00"/>
<rect x="328" y="210" width="1" height="1" fill="#00ff00"/>
<rect x="328" y="208" width="1" height="1" fill="#00ff00"/>
<rect x="329" y="211" width="1" height="1" fill="#00ff00"/>
<rect x="329" y="207" width="1" height="1" fill="#00ff00"/>
<rect x="316" y="203" width="1" height="1" fill="#00ff00"/>
<rect x="316" y="207" width="1" height="1" fill="#00ff00"/>
<rect x="317" y="204" width="1" height="1" fill="#00ff00"/>
<rect x="317" y="206" width="1" height="1" fill="#00ff00"/>
<rect x="318" y="205" width="1" height="1" fill="#00ff00"/>
<rect x="319" y="206" width="1" height="1" fill="#00ff00"/>
<rect x="319" y="204" width="1" height="1" fill="#00ff00"/>
<rect x="320" y="207" width="1" height="1" fill="#00ff00"/>
<rect x="320" y="203" width="1" height="1" fill="#00ff00"/>
<rect x="324" y="201" width="1" height="1" fill="#00ff00"/>
<rect x="324" y="205" width="1" height="1" fill="#00ff00"/>
<rect x="325" y="202" width="1" height="1" fill="#00ff00"/>
<rect x="325" y="204" width="1" height="1" fill="#00ff00"/>
<rect x="326" y="203" width="1" height="1" fill="#00ff00"/>
<rect x="327" y="204" width="1" height="1" fill="#00ff00"/>
<rect x="327" y="202" width="1" height="1" fill="#00ff00"/>
<rect x="328" y="205" width="1" height="1" fill="#00ff00"/>
<rect x="328" y="201" width="1" height="1" fill="#00ff00"/>
<rect x="338" y="197" width="1" height="1" fill="#00ff00"/>
<rect x="338" y="201" width="1" height="1" fill="#00ff00"/>
<rect x="339" y="198" width="1" height="1" fill="#00ff00"/>
<rect x="339" y="200" width="1" height="1" fill="#00ff00"/>
<rect x="340" y="199" width="1" height="1" fill="#00ff00"/>
<rect x="341" y="200" width="1" height="1" fill="#00ff00"/>
<rect x="341" y="198" width="1" height="1" fill="#00ff00"/>
<rect x="342" y="201" width="1" height="1" fill="#00ff00"/>
<rect x="342" y="197" width="1" height="1" fill="#00ff00"/>
<rect x="339" y="199" width="1" height="1" fill="#00ff00"/>
<rect x="339" y="203" width="1" height="1" fill="#00ff00"/>
<rect x="340" y="200" width="1" height="1" fill="#00ff00"/>
<rect x="340" y="202" width="1" height="1" fill="#00ff00"/>
<rect x="341" y="201" width="1" height="1" fill="#00ff00"/>
<rect x="342" y="202" width="1" height="1" fill="#00ff00"/>
<rect x="342" y="200" width="1" height="1" fill="#00ff00"/>
<rect x="343" y="203" width="1" height="1" fill="#00ff00"/>
<rect x="343" y="199" width="1" height="1" fill="#00ff00"/>
<rect x="338" y="201" width="1" height="1" fill="#00ff00"/>
<rect x="338" y="205" width="1" height="1" fill="#00ff00"/>
<rect x="339" y="202" width="1" height="1" fill="#00ff00"/>
<rect x="339" y="204" width="1" height="1" fill="#00ff00"/>
<rect x="340" y="203" width="1" height="1" fill="#00ff00"/>
<rect x="341" y="204" width="1" height="1" fill="#00ff00"/>
<rect x="341" y="202" width="1" height="1" fill="#00ff00"/>
<rect x="342" y="205" width="1" height="1" fill="#00ff00"/>
<rect x="342" y="201" width="1" height="1" fill="#00ff00"/>
<rect x="339" y="202" width="1" height="1" fill="#00ff00"/>
<rect x="339" y="206" width="1" height="1" fill="#00ff00"/>
<rect x="340" y="203" width="1" height="1" fill="#00ff00"/>
<rect x="340" y="205" width="1" height="1" fill="#00ff00"/>
<rect x="341" y="204" width="1" height="1" fill="#00ff00"/>
<rect x="342" y="205" width="1" height="1" fill="#00ff00"/>
<rect x="342" y="203" width="1" height="1" fill="#00ff00"/>
<rect x="343" y="206" width="1" height="1" fill="#00ff00"/>
<rect x="343" y="202" width="1" height="1" fill="#00ff00"/>
<rect x="338" y="203" width="1" height="1" fill="#00ff00"/>
<rect x="338" y="207" width="1" height="1" fill="#00ff00"/>
<rect x="339" y="204" width="1" height="1" fill="#00ff00"/>
<rect x="339" y="206" width="1" height="1" fill="#00ff00"/>
<rect x="340" y="205" width="1" height="1" fill="#00ff00"/>
<rect x="341" y="206" width="1" height="1" fill="#00ff00"/>
<rect x="341" y="204" width="1" height="1" fill="#00ff00"/>
<rect x="342" y="207" width="1" height="1" fill="#00ff00"/>
<rect x="342" y="203" width="1" height="1" fill="#00ff00"/>
<rect x="339" y="204" width="1" height="1" fill="#00ff00"/>
<rect x="339" y="208" width="1" height="1" fill="#00ff00"/>
<rect x="340" y="205" width="1" height="1" fill="#00ff00"/>
<rect x="340" y="207" width="1" height="1" fill="#00ff00"/>
<rect x="341" y="206" width="1" height="1" fill="#00ff00"/>
<rect x="342" y="207" width="1" height="1" fill="#00ff00"/>
<rect x="342" y="205" width="1" height="1" fill="#00ff00"/>
<rect x="343" y="208" width="1" height="1" fill="#00ff00"/>
<rect x="343" y="204" width="1" height="1" fill="#00ff00"/>
<rect x="338" y="205" width="1" height="1" fill="#00ff00"/>
<rect x="338" y="209" width="1" height="1" fill="#00ff00"/>
<rect x="339" y="206" width="1" height="1" fill="#00ff00"/>
<rect x="339" y="208" width="1" height="1" fill="#00ff00"/>
<rect x="340" y="207" width="1" height="1" fill="#00ff00"/>
<rect x="341" y="208" width="1" height="1" fill="#00ff00"/>
<rect x="341" y="206" width="1" height="1" fill="#00ff00"/>
<rect x="342" y="209" width="1" height="1" fill="#00ff00"/>
<rect x="342" y="205" width="1" height="1" fill="#00ff00"/>
<rect x="339" y="206" width="1" height="1" fill="#00ff00"/>
<rect x="339" y="210" width="1" height="1" fill="#00ff00"/>
<rect x="340" y="207" width="1" height="1" fill="#00ff00"/>
<rect x="340" y="209" width="1" height="1" fill="#00ff00"/>
<rect x="341" y="208" width="1" height="1" fill="#00ff00"/>
<rect x="342" y="209" width="1" height="1" fill="#00ff00"/>
<rect x="342" y="207" width="1" height="1" fill="#00ff00"/>
<rect x="343" y="210" width="1" height="1" fill="#00ff00"/>
<rect x="343" y="206" width="1" height="1" fill="#00ff00"/>
<rect x="338" y="207" width="1" height="1" fill="#00ff00"/>
<rect x="338" y="211" width="1" height="1" fill="#00ff00"/>
<rect x="339" y="208" width="1" height="1" fill="#00ff00"/>
<rect x="339" y="210" width="1" height="1" fill="#00ff00"/>
<rect x="340" y="209" width="1" height="1" fill="#00ff00"/>
<rect x="341" y="210" width="1" height="1" fill="#00ff00"/>
<rect x="341" y="208" width="1" height="1" fill="#00ff00"/>
<rect x="342" y="211" width="1" height="1" fill="#00ff00"/>
<rect x="342" y="207" width="1" height="1" fill="#00ff00"/>
<rect x="348" y="193" width="1" height="1" fill="#00ff00"/>
<rect x="348" y="197" width="1" height="1" fill="#00ff00"/>
<rect x="349" y="194" width="1" height="1" fill="#00ff00"/>
<rect x="349" y="196" width="1" height="1" fill="#00ff00"/>
<rect x="350" y="195" width="1" height="1" fill="#00ff00"/>
<rect x="351" y="196" width="1" height="1" fill="#00ff00"/>
<rect x="351" y="194" width="1" height="1" fill="#00ff00"/>
<rect x="352" y="197" width="1" height="1" fill="#00ff00"/>
<rect x="352" y="193" width="1" height="1" fill="#00ff00"/>
<rect x="349" y="194" width="1" height="1" fill="#00ff00"/>
<rect x="349" y="198" width="1" height="1" fill="#00ff00"/>
<rect x="350" y="195" width="1" height="1" fill="#00ff00"/>
<rect x="350" y="197" width="1" height="1" fill="#00ff00"/>
<rect x="351" y="196" width="1" height="1" fill="#00ff00"/>
<rect x="352" y="197" width="1" height="1" fill="#00ff00"/>
<rect x="352" y="195" width="1" height="1" fill="#00ff00"/>
<rect x="353" y="198" width="1" height="1" fill="#00ff00"/>
<rect x="353" y="194" width="1" height="1" fill="#00ff00"/>
<rect x="348" y="195" width="1" height="1" fill="#00ff00"/>
<rect x="348" y="199" width="1" height="1" fill="#00ff00"/>
<rect x="349" y="196" width="1" height="1" fill="#00ff00"/>
<rect x="349" y="198" width="1" height="1" fill="#00ff00"/>
<rect x="350" y="197" width="1" height="1" fill="#00ff00"/>
<rect x="351" y="198" width="1" height="1" fill="#00ff00"/>
<rect x="351" y="196" width="1" height="1" fill="#00ff00"/>
<rect x="352" y="199" width="1" height="1" fill="#00ff00"/>
<rect x="352" y="195" width="1" height="1" fill="#00ff00"/>
<rect x="355" y="195" width="1" height="1" fill="#00ff00"/>
<rect x="355" y="199" width="1" height="1" fill="#00ff00"/>
<rect x="356" y="196" width="1" height="1" fill="#00ff00"/>
<rect x="356" y="198" width="1" height="1" fill="#00ff00"/>
<rect x="357" y="197" width="1" height="1" fill="#00ff00"/>
<rect x="358" y="198" width="1" height="1" fill="#00ff00"/>
<rect x="358" y="196" width="1" height="1" fill="#00ff00"/>
<rect x="359" y="199" width="1" height="1" fill="#00ff00"/>
<rect x="359" y="195" width="1" height="1" fill="#00ff00"/>
<rect x="351" y="201" width="1" height="1" fill="#00ff00"/>
<rect x="351" y="205" width="1" height="1" fill="#00ff00"/>
<rect x="352" y="202" width="1" height="1" fill="#00ff00"/>
<rect x="352" y="204" width="1" height="1" fill="#00ff00"/>
<rect x="353" y="203" width="1" height="1" fill="#00ff00"/>
<rect x="354" y="204" width="1" height="1" fill="#00ff00"/>
<rect x="354" y="202" width="1" height="1" fill="#00ff00"/>
<rect x="355" y="205" width="1" height="1" fill="#00ff00"/>
<rect x="355" y="201" width="1" height="1" fill="#00ff00"/>
<rect x="356" y="201" width="1" height="1" fill="#00ff00"/>
<rect x="356" y="205" width="1" height="1" fill="#00ff00"/>
<rect x="357" y="202" width="1" height="1" fill="#00ff00"/>
<rect x="357" y="204" width="1" height="1" fill="#00ff00"/>
<rect x="358" y="203" width="1" height="1" fill="#00ff00"/>
<rect x="359" y="204" width="1" height="1" fill="#00ff00"/>
<rect x="359" y="202" width="1" height="1" fill="#00ff00"/>
<rect x="360" y="205" width="1" height="1" fill="#00ff00"/>
<rect x="360" y="201" width="1" height="1" fill="#00ff00"/>
<rect x="348" y="207" width="1" height="1" fill="#00ff00"/>
<rect x="348" y="211" width="1" height="1" fill="#00ff00"/>
<rect x="349" y="208" width="1" height="1" fill="#00ff00"/>
<rect x="349" y="210" width="1" height="1" fill="#00ff00"/>
<rect x="350" y="209" width="1" height="1" fill="#00ff00"/>
<rect x="351" y="210" width="1" height="1" fill="#00ff00"/>
<rect x="351" y="208" width="1" height="1" fill="#00ff00"/>
<rect x="352" y="211" width="1" height="1" fill="#00ff00"/>
<rect x="352" y="207" width="1" height="1" fill="#00ff00"/>
<rect x="349" y="208" width="1" height="1" fill="#00ff00"/>
<rect x="349" y="212" width="1" height="1" fill="#00ff00"/>
<rect x="350" y="209" width="1" height="1" fill="#00ff00"/>
<rect x="350" y="211" width="1" height="1" fill="#00ff00"/>
<rect x="351" y="210" width="1" height="1" fill="#00ff00"/>
<rect x="352" y="211" width="1" height="1" fill="#00ff00"/>
<rect x="352" y="209" width="1" height="1" fill="#00ff00"/>
<rect x="353" y="212" width="1" height="1" fill="#00ff00"/>
<rect x="353" y="208" width="1" height="1" fill="#00ff00"/>
<rect x="348" y="209" width="1" height="1" fill="#00ff00"/>
<rect x="348" y="213" width="1" height="1" fill="#00ff00"/>
<rect x="349" y="210" width="1" height="1" fill="#00ff00"/>
<rect x="349" y="212" width="1" height="1" fill="#00ff00"/>
<rect x="350" y="211" width="1" height="1" fill="#00ff00"/>
<rect x="351" y="212" width="1" height="1" fill="#00ff00"/>
<rect x="351" y="210" width="1" height="1" fill="#00ff00"/>
<rect x="352" y="213" width="1" height="1" fill="#00ff00"/>
<rect x="352" y="209" width="1" height="1" fill="#00ff00"/>
<rect x="355" y="208" width="1" height="1" fill="#00ff00"/>
<rect x="355" y="212" width="1" height="1" fill="#00ff00"/>
<rect x="356" y="209" width="1" height="1" fill="#00ff00"/>
<rect x="356" y="211" width="1" height="1" fill="#00ff00"/>
<rect x="357" y="210" width="1" height="1" fill="#00ff00"/>
<rect x="358" y="211" width="1" height="1" fill="#00ff00"/>
<rect x="358" y="209" width="1" height="1" fill="#00ff00"/>
<rect x="359" y="212" width="1" height="1" fill="#00ff00"/>
<rect x="359" y="208" width="1" height="1" fill="#00ff00"/>
<rect x="356" y="210" width="1" height="1" fill="#00ff00"/>
<rect x="356" y="214" width="1" height="1" fill="#00ff00"/>
<rect x="357" y="211" width="1" height="1" fill="#00ff00"/>
<rect x="357" y="213" width="1" height="1" fill="#00ff00"/>
<rect x="358" y="212" width="1" height="1" fill="#00ff00"/>
<rect x="359" y="213" width="1" height="1" fill="#00ff00"/>
<rect x="359" y="211" width="1" height="1" fill="#00ff00"/>
<rect x="360" y="214" width="1" height="1" fill="#00ff00"/>
<rect x="360" y="210" width="1" height="1" fill="#00ff00"/>
<rect x="361" y="210" width="1" height="1" fill="#00ff00"/>
<rect x="361" y="214" width="1" height="1" fill="#00ff00"/>
<rect x="362" y="211" width="1" height="1" fill="#00ff00"/>
<rect x="362" y="213" width="1" height="1" fill="#00ff00"/>
<rect x="363" y="212" width="1" height="1" fill="#00ff00"/>
<rect x="364" y="213" width="1" height="1" fill="#00ff00"/>
<rect x="364" y="211" width="1" height="1" fill="#00ff00"/>
<rect x="365" y="214" width="1" height="1" fill="#00ff00"/>
<rect x="365" y="210" width="1" height="1" fill="#00ff00"/>
<rect x="322" y="116" width="1" height="1" fill="#00ff00"/>
<rect x="322" y="120" width="1" height="1" fill="#00ff00"/>
<rect x="323" y="117" width="1" height="1" fill="#00ff00"/>
<rect x="323" y="119" width="1" height="1" fill="#00ff00"/>
<rect x="324" y="118" width="1" height="1" fill="#00ff00"/>
<rect x="325" y="119" width="1" height="1" fill="#00ff00"/>
<rect x="325" y="117" width="1" height="1" fill="#00ff00"/>
<rect x="326" y="120" width="1" height="1" fill="#00ff00"/>
<rect x="326" y="116" width="1" height="1" fill="#00ff00"/>
<rect x="323" y="118" width="1" height="1" fill="#00ff00"/>
<rect x="323" y="122" width="1" height="1" fill="#00ff00"/>
<rect x="324" y="119" width="1" height="1" fill="#00ff00"/>
<rect x="324" y="121" width="1" height="1" fill="#00ff00"/>
<rect x="325" y="120" width="1" height="1" fill="#00ff00"/>
<rect x="326" y="121" width="1" height="1" fill="#00ff00"/>
<rect x="326" y="119" width="1" height="1" fill="#00ff00"/>
<rect x="327" y="122" width="1" height="1" fill="#00ff00"/>
<rect x="327" y="118" width="1" height="1" fill="#00ff00"/>
<rect x="317" y="132" width="1" height="1" fill="#00ff00"/>
<rect x="317" y="136" width="1" height="1" fill="#00ff00"/>
<rect x="318" y="133" width="1" height="1" fill="#00ff00"/>
<rect x="318" y="135" width="1" height="1" fill="#00ff00"/>
<rect x="319" y="134" width="1" height="1" fill="#00ff00"/>
<rect x="320" y="135" width="1" height="1" fill="#00ff00"/>
<rect x="320" y="133" width="1" height="1" fill="#00ff00"/>
<rect x="321" y="136" width="1" height="1" fill="#00ff00"/>
<rect x="321" y="132" width="1" height="1" fill="#00ff00"/>
<rect x="316" y="131" width="1" height="1" fill="#00ff00"/>
<rect x="316" y="135" width="1" height="1" fill="#00ff00"/>
<rect x="317" y="132" width="1" height="1" fill="#00ff00"/>
<rect x="317" y="134" width="1" height="1" fill="#00ff00"/>
<rect x="318" y="133" width="1" height="1" fill="#00ff00"/>
<rect x="319" y="134" width="1" height="1" fill="#00ff00"/>
<rect x="319" y="132" width="1" height="1" fill="#00ff00"/>
<rect x="320" y="135" width="1" height="1" fill="#00ff00"/>
<rect x="320" y="131" width="1" height="1" fill="#00ff00"/>
<rect x="319" y="134" width="1" height="1" fill="#00ff00"/>
<rect x="319" y="138" width="1" height="1" fill="#00ff00"/>
<rect x="320" y="135" width="1" height="1" fill="#00ff00"/>
<rect x="320" y="137" width="1" height="1" fill="#00ff00"/>
<rect x="321" y="136" width="1" height="1" fill="#00ff00"/>
<rect x="322" y="137" width="1" height="1" fill="#00ff00"/>
<rect x="322" y="135" width="1" height="1" fill="#00ff00"/>
<rect x="323" y="138" width="1" height="1" fill="#00ff00"/>
<rect x="323" y="134" width="1" height="1" fill="#00ff00"/>
<rect x="314" y="196" width="1" height="1" fill="#00ff00"/>
<rect x="314" y="200" width="1" height="1" fill="#00ff00"/>
<rect x="315" y="197" width="1" height="1" fill="#00ff00"/>
<rect x="315" y="199" width="1" height="1" fill="#00ff00"/>
<rect x="316" y="198" width="1" height="1" fill="#00ff00"/>
<rect x="317" y="199" width="1" height="1" fill="#00ff00"/>
<rect x="317" y="197" width="1" height="1" fill="#00ff00"/>
<rect x="318" y="200" width="1" height="1" fill="#00ff00"/>
<rect x="318" y="196" width="1" height="1" fill="#00ff00"/>
<rect x="318" y="195" width="1" height="1" fill="#00ff00"/>
<rect x="318" y="199" width="1" height="1" fill="#00ff00"/>
<rect x="319" y="196" width="1" height="1" fill="#00ff00"/>
<rect x="319" y="198" width="1" height="1" fill="#00ff00"/>
<rect x="320" y="197" width="1" height="1" fill="#00ff00"/>
<rect x="321" y="198" width="1" height="1" fill="#00ff00"/>
<rect x="321" y="196" width="1" height="1" fill="#00ff00"/>
<rect x="322" y="199" width="1" height="1" fill="#00ff00"/>
<rect x="322" y="195" width="1" height="1" fill="#00ff00"/>
<rect x="322" y="195" width="1" height="1" fill="#00ff00"/>
<rect x="322" y="199" width="1" height="1" fill="#00ff00"/>
<rect x="323" y="196" width="1" height="1" fill="#00ff00"/>
<rect x="323" y="198" width="1" height="1" fill="#00ff00"/>
<rect x="324" y="197" width="1" height="1" fill="#00ff00"/>
<rect x="325" y="198" width="1" height="1" fill="#00ff00"/>
<rect x="325" y="196" width="1" height="1" fill="#00ff00"/>
<rect x="326" y="199" width="1" height="1" fill="#00ff00"/>
<rect x="326" y="195" width="1" height="1" fill="#00ff00"/>
<rect x="326" y="195" width="1" height="1" fill="#00ff00"/>
<rect x="326" y="199" width="1" height="1" fill="#00ff00"/>
<rect x="327" y="196" width="1" height="1" fill="#00ff00"/>
<rect x="327" y="198" width="1" height="1" fill="#00ff00"/>
<rect x="328" y="197" width="1" height="1" fill="#00ff00"/>
<rect x="329" y="198" width="1" height="1" fill="#00ff00"/>
<rect x="329" y="196" width="1" height="1" fill="#00ff00"/>
<rect x="330" y="199" width="1" height="1" fill="#00ff00"/>
<rect x="330" y="195" width="1" height="1" fill="#00ff00"/>
<rect x="314" y="207" width="1" height="1" fill="#00ff00"/>
<rect x="314" y="211" width="1" height="1" fill="#00ff00"/>
<rect x="315" y="208" width="1" height="1" fill="#00ff00"/>
<rect x="315" y="210" width="1" height="1" fill="#00ff00"/>
<rect x="316" y="209" width="1" height="1" fill="#00ff00"/>
<rect x="317" y="210" width="1" height="1" fill="#00ff00"/>
<rect x="317" y="208" width="1" height="1" fill="#00ff00"/>
<rect x="318" y="211" width="1" height="1" fill="#00ff00"/>
<rect x="318" y="207" width="1" height="1" fill="#00ff00"/>
<rect x="336" y="202" width="1" height="1" fill="#00ff00"/>
<rect x="336" y="206" width="1" height="1" fill="#00ff00"/>
<rect x="337" y="203" width="1" height="1" fill="#00ff00"/>
<rect x="337" y="205" width="1" height="1" fill="#00ff00"/>
<rect x="338" y="204" width="1" height="1" fill="#00ff00"/>
<rect x="339" y="205" width="1" height="1" fill="#00ff00"/>
<rect x="339" y="203" width="1" height="1" fill="#00ff00"/>
<rect x="340" y="206" width="1" height="1" fill="#00ff00"/>
<rect x="340" y="202" width="1" height="1" fill="#00ff00"/>
<rect x="340" y="205" width="1" height="1" fill="#00ff00"/>
<rect x="340" y="209" width="1" height="1" fill="#00ff00"/>
<rect x="341" y="206" width="1" height="1" fill="#00ff00"/>
<rect x="341" y="208" width="1" height="1" fill="#00ff00"/>
<rect x="342" y="207" width="1" height="1" fill="#00ff00"/>
<rect x="343" y="208" width="1" height="1" fill="#00ff00"/>
<rect x="343" y="206" width="1" height="1" fill="#00ff00"/>
<rect x="344" y="209" width="1" height="1" fill="#00ff00"/>
<rect x="344" y="205" width="1" height="1" fill="#00ff00"/>
<rect x="129" y="201" width="1" height="1" fill="#0000ff"/>
<rect x="128" y="194" width="1" height="1" fill="#0000ff"/>
<rect x="130" y="196" width="1" height="1" fill="#0000ff"/>
<rect x="131" y="197" width="1" height="1" fill="#0000ff"/>
<rect x="125" y="199" width="1" height="1" fill="#0000ff"/>
<rect x="126" y="200" width="1" height="1" fill="#0000ff"/>
<rect x="128" y="202" width="1" height="1" fill="#0000ff"/>
<rect x="127" y="195" width="1" height="1" fill="#0000ff"/>
<rect x="131" y="199" width="1" height="1" fill="#0000ff"/>
<rect x="132" y="198" width="1" height="1" fill="#0000ff"/>
<rect x="126" y="196" width="1" height="1" fill="#0000ff"/>
<rect x="129" y="195" width="1" height="1" fill="#0000ff"/>
<rect x="127" y="201" width="1" height="1" fill="#0000ff"/>
<rect x="130" y="200" width="1" height="1" fill="#0000ff"/>
<rect x="124" y="198" width="1" height="1" fill="#0000ff"/>
<rect x="125" y="197" width="1" height="1" fill="#0000ff"/>
<rect x="126" y="198" width="5" height="1" fill="#0000ff"/>
<rect x="128" y="196" width="1" height="5" fill="#0000ff"/>
<rect x="125" y="204" width="5" height="1" fill="#0000ff"/>
<rect x="127" y="202" width="1" height="5" fill="#0000ff"/>
<rect x="338" y="211" width="5" height="1" fill="#00ff00"/>
<rect x="340" y="209" width="1" height="5" fill="#00ff00"/>
<rect x="351" y="211" width="5" height="1" fill="#00ff00"/>
<rect x="353" y="209" width="1" height="5" fill="#00ff00"/>
<rect x="129" y="212" width="5" height="1" fill="#00ff00"/>
<rect x="131" y="210" width="1" height="5" fill="#00ff00"/>
<rect x="318" y="200" width="1" height="1" fill="#0000ff"/>
<rect x="316" y="200" width="1" height="1" fill="#0000ff"/>
<rect x="317" y="199" width="1" height="1" fill="#0000ff"/>
<rect x="319" y="201" width="1" height="1" fill="#0000ff"/>
<rect x="318" y="202" width="1" height="1" fill="#0000ff"/>
<rect x="316" y="202" width="1" height="1" fill="#0000ff"/>
<rect x="315" y="201" width="1" height="1" fill="#0000ff"/>
<rect x="317" y="203" width="1" height="1" fill="#0000ff"/>
<rect x="316" y="200" width="1" height="1" fill="#0000ff"/>
<rect x="317" y="199" width="1" height="1" fill="#0000ff"/>
<rect x="320" y="200" width="1" height="1" fill="#0000ff"/>
<rect x="319" y="199" width="1" height="1" fill="#0000ff"/>
<rect x="318" y="202" width="1" height="1" fill="#0000ff"/>
<rect x="318" y="198" width="1" height="1" fill="#0000ff"/>
<rect x="317" y="201" width="1" height="1" fill="#0000ff"/>
<rect x="319" y="201" width="1" height="1" fill="#0000ff"/>
<rect x="322" y="200" width="1" height="1" fill="#0000ff"/>
<rect x="323" y="201" width="1" height="1" fill="#0000ff"/>
<rect x="324" y="200" width="1" height="1" fill="#0000ff"/>
<rect x="323" y="197" width="1" height="1" fill="#0000ff"/>
<rect x="325" y="199" width="1" height="1" fill="#0000ff"/>
<rect x="321" y="199" width="1" height="1" fill="#0000ff"/>
<rect x="324" y="198" width="1" height="1" fill="#0000ff"/>
<rect x="322" y="198" width="1" height="1" fill="#0000ff"/>
<rect x="325" y="194" width="1" height="1" fill="#0000ff"/>
<rect x="326" y="193" width="1" height="1" fill="#0000ff"/>
<rect x="327" y="194" width="1" height="1" fill="#0000ff"/>
<rect x="325" y="196" width="1" height="1" fill="#0000ff"/>
<rect x="327" y="196" width="1" height="1" fill="#0000ff"/>
<rect x="324" y="195" width="1" height="1" fill="#0000ff"/>
<rect x="326" y="197" width="1" height="1" fill="#0000ff"/>
<rect x="328" y="195" width="1" height="1" fill="#0000ff"/>
<rect x="124" y="203" width="5" height="1" fill="#ff0000"/>
<rect x="126" y="201" width="1" height="5" fill="#ff0000"/>
<rect x="127" y="202" width="5" height="1" fill="#ff0000"/>
<rect x="129" y="200" width="1" height="5" fill="#ff0000"/>
<rect x="121" y="208" width="5" height="1" fill="#ff0000"/>
<rect x="123" y="206" width="1" height="5" fill="#ff0000"/>
<rect x="316" y="208" width="5" height="1" fill="#ff0000"/>
<rect x="318" y="206" width="1" height="5" fill="#ff0000"/>
<rect x="320" y="207" width="5" height="1" fill="#ff0000"/>
<rect x="322" y="205" width="1" height="5" fill="#ff0000"/>
<rect x="324" y="205" width="5" height="1" fill="#ff0000"/>
<rect x="326" y="203" width="1" height="5" fill="#ff0000"/>
<rect x="119" y="207" width="1" height="1" fill="#000000"/>
<rect x="121" y="203" width="1" height="1" fill="#000000"/>
<rect x="122" y="208" width="1" height="1" fill="#000000"/>
<rect x="122" y="204" width="1" height="1" fill="#000000"/>
<rect x="121" y="209" width="1" height="1" fill="#000000"/>
<rect x="118" y="206" width="1" height="1" fill="#000000"/>
<rect x="120" y="208" width="1" height="1" fill="#000000"/>
<rect x="124" y="206" width="1" height="1" fill="#000000"/>
<rect x="123" y="205" width="1" height="1" fill="#000000"/>
<rect x="119" y="205" width="1" height="1" fill="#000000"/>
<rect x="120" y="204" width="1" height="1" fill="#000000"/>
<rect x="123" y="207" width="1" height="1" fill="#000000"/>
<rect x="126" y="201" width="1" height="1" fill="#000000"/>
<rect x="129" y="200" width="1" height="1" fill="#000000"/>
<rect x="127" y="202" width="1" height="1" fill="#000000"/>
<rect x="128" y="199" width="1" height="1" fill="#000000"/>
<rect x="126" y="199" width="1" height="1" fill="#000000"/>
<rect x="127" y="198" width="1" height="1" fill="#000000"/>
<rect x="125" y="200" width="1" height="1" fill="#000000"/>
<rect x="128" y="201" width="1" height="1" fill="#000000"/>
<rect x="127" y="200" width="1" height="1" fill="#000000"/>
<rect x="126" y="201" width="1" height="1" fill="#000000"/>
<rect x="129" y="200" width="1" height="1" fill="#000000"/>
<rect x="128" y="203" width="1" height="1" fill="#000000"/>
<rect x="127" y="202" width="1" height="1" fill="#000000"/>
<rect x="128" y="199" width="1" height="1" fill="#000000"/>
<rect x="129" y="202" width="1" height="1" fill="#000000"/>
<rect x="130" y="201" width="1" height="1" fill="#000000"/>
<rect x="131" y="214" width="1" height="1" fill="#000000"/>
<rect x="132" y="213" width="1" height="1" fill="#000000"/>
<rect x="131" y="210" width="1" height="1" fill="#000000"/>
<rect x="133" y="212" width="1" height="1" fill="#000000"/>
<rect x="129" y="212" width="1" height="1" fill="#000000"/>
<rect x="130" y="211" width="1" height="1" fill="#000000"/>
<rect x="132" y="211" width="1" height="1" fill="#000000"/>
<rect x="130" y="213" width="1" height="1" fill="#000000"/>
<rect x="326" y="202" width="1" height="1" fill="#000000"/>
<rect x="328" y="200" width="1" height="1" fill="#000000"/>
<rect x="327" y="203" width="1" height="1" fill="#000000"/>
<rect x="327" y="199" width="1" height="1" fill="#000000"/>
<rect x="329" y="201" width="1" height="1" fill="#000000"/>
<rect x="325" y="201" width="1" height="1" fill="#000000"/>
<rect x="328" y="202" width="1" height="1" fill="#000000"/>
<rect x="326" y="200" width="1" height="1" fill="#000000"/>
<rect x="318" y="203" width="1" height="1" fill="#000000"/>
<rect x="321" y="204" width="1" height="1" fill="#000000"/>
<rect x="319" y="202" width="1" height="1" fill="#000000"/>
<rect x="320" y="205" width="1" height="1" fill="#000000"/>
<rect x="321" y="202" width="1" height="1" fill="#000000"/>
<rect x="320" y="201" width="1" height="1" fill="#000000"/>
<rect x="319" y="204" width="1" height="1" fill="#000000"/>
<rect x="322" y="203" width="1" height="1" fill="#000000"/>
<rect x="320" y="203" width="1" height="1" fill="#000000"/>
<rect x="323" y="204" width="1" height="1" fill="#000000"/>
<rect x="321" y="206" width="1" height="1" fill="#000000"/>
<rect x="322" y="205" width="1" height="1" fill="#000000"/>
<rect x="320" y="205" width="1" height="1" fill="#000000"/>
<rect x="321" y="202" width="1" height="1" fill="#000000"/>
<rect x="319" y="204" width="1" height="1" fill="#000000"/>
<rect x="322" y="203" width="1" height="1" fill="#000000"/>
<rect x="339" y="210" width="1" height="1" fill="#000000"/>
<rect x="340" y="209" width="1" height="1" fill="#000000"/>
<rect x="341" y="212" width="1" height="1" fill="#000000"/>
<rect x="338" y="211" width="1" height="1" fill="#000000"/>
<rect x="339" y="212" width="1" height="1" fill="#000000"/>
<rect x="342" y="211" width="1" height="1" fill="#000000"/>
<rect x="341" y="210" width="1" height="1" fill="#000000"/>
<rect x="340" y="213" width="1" height="1" fill="#000000"/>
<rect x="354" y="210" width="1" height="1" fill="#000000"/>
<rect x="353" y="213" width="1" height="1" fill="#000000"/>
<rect x="352" y="212" width="1" height="1" fill="#000000"/>
<rect x="353" y="209" width="1" height="1" fill="#000000"/>
<rect x="354" y="212" width="1" height="1" fill="#000000"/>
<rect x="355" y="211" width="1" height="1" fill="#000000"/>
<rect x="351" y="211" width="1" height="1" fill="#000000"/>
<rect x="352" y="210" width="1" height="1" fill="#000000"/>
<rect x="124" y="203" width="5" height="1" fill="#ff0000"/>
<rect x="126" y="201" width="1" height="5" fill="#ff0000"/>
<rect x="120" y="218" width="310" height="1" fill="#ff0000"/>
<rect x="316" y="218" width="5" height="1" fill="#ff0000"/>
<rect x="318" y="216" width="1" height="5" fill="#ff0000"/>
<rect x="322" y="397" width="5" height="1" fill="#ff0000"/>
<rect x="324" y="395" width="1" height="5" fill="#ff0000"/>
<rect x="120" y="406" width="310" height="1" fill="#000000"/>
<rect x="120" y="586" width="310" height="1" fill="#ff0000"/>
<text x="126.05" y="17" font-size="17" fill="#000" stroke="#fff" stroke-width="0.3" textLength="83.77" lengthAdjust="spacingAndGlyphs">20250516</text>
<text x="218.78" y="17" font-size="17" fill="#000" stroke="#fff" stroke-width="0.3" textLength="45.57" lengthAdjust="spacingAndGlyphs">DCINT</text>
<text x="293.75" y="17" font-size="17" fill="#000" stroke="#fff" stroke-width="0.3" textLength="79.6" lengthAdjust="spacingAndGlyphs">LCOFFSET</text>
<text x="401.74" y="17" font-size="17" fill="#000" stroke="#fff" stroke-width="0.3" textLength="64.97" lengthAdjust="spacingAndGlyphs">HACPOS</text>
<path d="M274.5 20.8 L283.5 3.2" stroke="#000" stroke-width="1.1" fill="none" shape-rendering="auto"/>
<path d="M382.5 20.8 L391.5 3.2" stroke="#000" stroke-width="1.1" fill="none" shape-rendering="auto"/>
<text x="36.32" y="33" font-size="14" fill="#000" stroke="#fff" stroke-width="0.2" textLength="9.38" lengthAdjust="spacingAndGlyphs">5</text>
<path d="M46 25 L53 32 M53 25 L46 32" stroke="#000" stroke-width="1.1" fill="none"/>
<rect x="58" y="23" width="1" height="10" fill="#000"/>
<rect x="57" y="24" width="1" height="1" fill="#000"/>
<rect x="56" y="25" width="1" height="1" fill="#000"/>
<text x="62.43" y="33" font-size="14" fill="#000" stroke="#fff" stroke-width="0.2" textLength="8.14" lengthAdjust="spacingAndGlyphs">0</text>
<rect x="74" y="20" width="1" height="6" fill="#000"/>
<rect x="71" y="24" width="5" height="1" fill="#000"/>
<rect x="73" y="21" width="1" height="1" fill="#000"/>
<rect x="72" y="22" width="1" height="1" fill="#000"/>
<rect x="71" y="23" width="1" height="1" fill="#000"/>
<text x="36.64" y="67" font-size="14" fill="#000" stroke="#fff" stroke-width="0.2" textLength="8.83" lengthAdjust="spacingAndGlyphs">4</text>
<path d="M46 59 L53 66 M53 59 L46 66" stroke="#000" stroke-width="1.1" fill="none"/>
<rect x="58" y="57" width="1" height="10" fill="#000"/>
<rect x="57" y="58" width="1" height="1" fill="#000"/>
<rect x="56" y="59" width="1" height="1" fill="#000"/>
<text x="62.43" y="67" font-size="14" fill="#000" stroke="#fff" stroke-width="0.2" textLength="8.14" lengthAdjust="spacingAndGlyphs">0</text>
<rect x="74" y="54" width="1" height="6" fill="#000"/>
<rect x="71" y="58" width="5" height="1" fill="#000"/>
<rect x="73" y="55" width="1" height="1" fill="#000"/>
<rect x="72" y="56" width="1" height="1" fill="#000"/>
<rect x="71" y="57" width="1" height="1" fill="#000"/>
<text x="36.36" y="105" font-size="14" fill="#000" stroke="#fff" stroke-width="0.2" textLength="9.38" lengthAdjust="spacingAndGlyphs">3</text>
<path d="M46 97 L53 104 M53 97 L46 104" stroke="#000" stroke-width="1.1" fill="none"/>
<rect x="58" y="95" width="1" height="10" fill="#000"/>
<rect x="57" y="96" width="1" height="1" fill="#000"/>
<rect x="56" y="97" width="1" height="1" fill="#000"/>
<text x="62.43" y="105" font-size="14" fill="#000" stroke="#fff" stroke-width="0.2" textLength="8.14" lengthAdjust="spacingAndGlyphs">0</text>
<rect x="74" y="92" width="1" height="6" fill="#000"/>
<rect x="71" y="96" width="5" height="1" fill="#000"/>
<rect x="73" y="93" width="1" height="1" fill="#000"/>
<rect x="72" y="94" width="1" height="1" fill="#000"/>
<rect x="71" y="95" width="1" height="1" fill="#000"/>
<text x="36.12" y="143" font-size="14" fill="#000" stroke="#fff" stroke-width="0.2" textLength="9.77" lengthAdjust="spacingAndGlyphs">2</text>
<path d="M46 135 L53 142 M53 135 L46 142" stroke="#000" stroke-width="1.1" fill="none"/>
<rect x="58" y="133" width="1" height="10" fill="#000"/>
<rect x="57" y="134" width="1" height="1" fill="#000"/>
<rect x="56" y="135" width="1" height="1" fill="#000"/>
<text x="62.43" y="143" font-size="14" fill="#000" stroke="#fff" stroke-width="0.2" textLength="8.14" lengthAdjust="spacingAndGlyphs">0</text>
<rect x="74" y="130" width="1" height="6" fill="#000"/>
<rect x="71" y="134" width="5" height="1" fill="#000"/>
<rect x="73" y="131" width="1" height="1" fill="#000"/>
<rect x="72" y="132" width="1" height="1" fill="#000"/>
<rect x="71" y="133" width="1" height="1" fill="#000"/>
<rect x="40" y="171" width="1" height="10" fill="#000"/>
<rect x="39" y="172" width="1" height="1" fill="#000"/>
<rect x="38" y="173" width="1" height="1" fill="#000"/>
<path d="M46 173 L53 180 M53 173 L46 180" stroke="#000" stroke-width="1.1" fill="none"/>
<rect x="58" y="171" width="1" height="10" fill="#000"/>
<rect x="57" y="172" width="1" height="1" fill="#000"/>
<rect x="56" y="173" width="1" height="1" fill="#000"/>
<text x="62.43" y="181" font-size="14" fill="#000" stroke="#fff" stroke-width="0.2" textLength="8.14" lengthAdjust="spacingAndGlyphs">0</text>
<rect x="74" y="168" width="1" height="6" fill="#000"/>
<rect x="71" y="172" width="5" height="1" fill="#000"/>
<rect x="73" y="169" width="1" height="1" fill="#000"/>
<rect x="72" y="170" width="1" height="1" fill="#000"/>
<rect x="71" y="171" width="1" height="1" fill="#000"/>
<text x="67.35" y="214" font-size="14" fill="#000" stroke="#fff" stroke-width="0.2" textLength="9.31" lengthAdjust="spacingAndGlyphs">0</text>
<rect x="28" y="246" width="9" height="1" fill="#000"/>
<text x="38.43" y="251" font-size="14" fill="#000" stroke="#fff" stroke-width="0.2" textLength="8.14" lengthAdjust="spacingAndGlyphs">0</text>
<rect x="48" y="250" width="2" height="1" fill="#000"/>
<text x="51.43" y="251" font-size="14" fill="#000" stroke="#fff" stroke-width="0.2" textLength="8.14" lengthAdjust="spacingAndGlyphs">0</text>
<rect x="63" y="241" width="1" height="10" fill="#000"/>
<rect x="62" y="242" width="1" height="1" fill="#000"/>
<rect x="61" y="243" width="1" height="1" fill="#000"/>
<text x="67.36" y="251" font-size="14" fill="#000" stroke="#fff" stroke-width="0.2" textLength="9.38" lengthAdjust="spacingAndGlyphs">3</text>
<rect x="28" y="286" width="9" height="1" fill="#000"/>
<text x="38.43" y="291" font-size="14" fill="#000" stroke="#fff" stroke-width="0.2" textLength="8.14" lengthAdjust="spacingAndGlyphs">0</text>
<rect x="48" y="290" width="2" height="1" fill="#000"/>
<text x="51.43" y="291" font-size="14" fill="#000" stroke="#fff" stroke-width="0.2" textLength="8.14" lengthAdjust="spacingAndGlyphs">0</text>
<rect x="63" y="281" width="1" height="10" fill="#000"/>
<rect x="62" y="282" width="1" height="1" fill="#000"/>
<rect x="61" y="283" width="1" height="1" fill="#000"/>
<text x="67.64" y="291" font-size="14" fill="#000" stroke="#fff" stroke-width="0.2" textLength="8.83" lengthAdjust="spacingAndGlyphs">4</text>
<rect x="28" y="325" width="9" height="1" fill="#000"/>
<text x="38.43" y="330" font-size="14" fill="#000" stroke="#fff" stroke-width="0.2" textLength="8.14" lengthAdjust="spacingAndGlyphs">0</text>
<rect x="48" y="329" width="2" height="1" fill="#000"/>
<text x="51.43" y="330" font-size="14" fill="#000" stroke="#fff" stroke-width="0.2" textLength="8.14" lengthAdjust="spacingAndGlyphs">0</text>
<rect x="63" y="320" width="1" height="10" fill="#000"/>
<rect x="62" y="321" width="1" height="1" fill="#000"/>
<rect x="61" y="322" width="1" height="1" fill="#000"/>
<text x="67.32" y="330" font-size="14" fill="#000" stroke="#fff" stroke-width="0.2" textLength="9.38" lengthAdjust="spacingAndGlyphs">5</text>
<rect x="28" y="365" width="9" height="1" fill="#000"/>
<text x="38.43" y="370" font-size="14" fill="#000" stroke="#fff" stroke-width="0.2" textLength="8.14" lengthAdjust="spacingAndGlyphs">0</text>
<rect x="48" y="369" width="2" height="1" fill="#000"/>
<text x="51.43" y="370" font-size="14" fill="#000" stroke="#fff" stroke-width="0.2" textLength="8.14" lengthAdjust="spacingAndGlyphs">0</text>
<rect x="63" y="360" width="1" height="10" fill="#000"/>
<rect x="62" y="361" width="1" height="1" fill="#000"/>
<rect x="61" y="362" width="1" height="1" fill="#000"/>
<text x="67.12" y="370" font-size="14" fill="#000" stroke="#fff" stroke-width="0.2" textLength="9.64" lengthAdjust="spacingAndGlyphs">6</text>
<text x="42.23" y="429" font-size="14" fill="#000" stroke="#fff" stroke-width="0.2" textLength="8.55" lengthAdjust="spacingAndGlyphs">2</text>
<text x="51.23" y="429" font-size="14" fill="#000" stroke="#fff" stroke-width="0.2" textLength="8.55" lengthAdjust="spacingAndGlyphs">2</text>
<text x="59.12" y="429" font-size="14" fill="#000" stroke="#fff" stroke-width="0.2" textLength="9.64" lengthAdjust="spacingAndGlyphs">6</text>
<text x="67.32" y="429" font-size="14" fill="#000" stroke="#fff" stroke-width="0.2" textLength="9.38" lengthAdjust="spacingAndGlyphs">5</text>
<text x="42.23" y="483" font-size="14" fill="#000" stroke="#fff" stroke-width="0.2" textLength="8.55" lengthAdjust="spacingAndGlyphs">2</text>
<text x="51.23" y="483" font-size="14" fill="#000" stroke="#fff" stroke-width="0.2" textLength="8.55" lengthAdjust="spacingAndGlyphs">2</text>
<text x="59.12" y="483" font-size="14" fill="#000" stroke="#fff" stroke-width="0.2" textLength="9.64" lengthAdjust="spacingAndGlyphs">6</text>
<text x="67.35" y="483" font-size="14" fill="#000" stroke="#fff" stroke-width="0.2" textLength="9.31" lengthAdjust="spacingAndGlyphs">0</text>
<text x="42.23" y="538" font-size="14" fill="#000" stroke="#fff" stroke-width="0.2" textLength="8.55" lengthAdjust="spacingAndGlyphs">2</text>
<text x="51.23" y="538" font-size="14" fill="#000" stroke="#fff" stroke-width="0.2" textLength="8.55" lengthAdjust="spacingAndGlyphs">2</text>
<text x="59.32" y="538" font-size="14" fill="#000" stroke="#fff" stroke-width="0.2" textLength="9.38" lengthAdjust="spacingAndGlyphs">5</text>
<text x="67.32" y="538" font-size="14" fill="#000" stroke="#fff" stroke-width="0.2" textLength="9.38" lengthAdjust="spacingAndGlyphs">5</text>
<text x="42.23" y="592" font-size="14" fill="#000" stroke="#fff" stroke-width="0.2" textLength="8.55" lengthAdjust="spacingAndGlyphs">2</text>
<text x="51.23" y="592" font-size="14" fill="#000" stroke="#fff" stroke-width="0.2" textLength="8.55" lengthAdjust="spacingAndGlyphs">2</text>
<text x="59.32" y="592" font-size="14" fill="#000" stroke="#fff" stroke-width="0.2" textLength="9.38" lengthAdjust="spacingAndGlyphs">5</text>
<text x="67.35" y="592" font-size="14" fill="#000" stroke="#fff" stroke-width="0.2" textLength="9.31" lengthAdjust="spacingAndGlyphs">0</text>
<text x="104.43" y="610" font-size="14" fill="#000" stroke="#fff" stroke-width="0.2" textLength="8.14" lengthAdjust="spacingAndGlyphs">0</text>
<text x="113.43" y="610" font-size="14" fill="#000" stroke="#fff" stroke-width="0.2" textLength="8.14" lengthAdjust="spacingAndGlyphs">0</text>
<rect x="122" y="603" width="2" height="2" fill="#000"/>
<rect x="122" y="608" width="2" height="2" fill="#000"/>
<text x="125.43" y="610" font-size="14" fill="#000" stroke="#fff" stroke-width="0.2" textLength="8.14" lengthAdjust="spacingAndGlyphs">0</text>
<text x="134.43" y="610" font-size="14" fill="#000" stroke="#fff" stroke-width="0.2" textLength="8.14" lengthAdjust="spacingAndGlyphs">0</text>
<text x="191.43" y="610" font-size="14" fill="#000" stroke="#fff" stroke-width="0.2" textLength="8.14" lengthAdjust="spacingAndGlyphs">0</text>
<text x="200.23" y="610" font-size="14" fill="#000" stroke="#fff" stroke-width="0.2" textLength="8.55" lengthAdjust="spacingAndGlyphs">2</text>
<rect x="209" y="603" width="2" height="2" fill="#000"/>
<rect x="209" y="608" width="2" height="2" fill="#000"/>
<text x="212.43" y="610" font-size="14" fill="#000" stroke="#fff" stroke-width="0.2" textLength="8.14" lengthAdjust="spacingAndGlyphs">0</text>
<text x="221.43" y="610" font-size="14" fill="#000" stroke="#fff" stroke-width="0.2" textLength="8.14" lengthAdjust="spacingAndGlyphs">0</text>
<text x="277.43" y="610" font-size="14" fill="#000" stroke="#fff" stroke-width="0.2" textLength="8.14" lengthAdjust="spacingAndGlyphs">0</text>
<text x="286.68" y="610" font-size="14" fill="#000" stroke="#fff" stroke-width="0.2" textLength="7.73" lengthAdjust="spacingAndGlyphs">4</text>
<rect x="295" y="603" width="2" height="2" fill="#000"/>
<rect x="295" y="608" width="2" height="2" fill="#000"/>
<text x="298.43" y="610" font-size="14" fill="#000" stroke="#fff" stroke-width="0.2" textLength="8.14" lengthAdjust="spacingAndGlyphs">0</text>
<text x="307.43" y="610" font-size="14" fill="#000" stroke="#fff" stroke-width="0.2" textLength="8.14" lengthAdjust="spacingAndGlyphs">0</text>
<text x="363.43" y="610" font-size="14" fill="#000" stroke="#fff" stroke-width="0.2" textLength="8.14" lengthAdjust="spacingAndGlyphs">0</text>
<text x="372.23" y="610" font-size="14" fill="#000" stroke="#fff" stroke-width="0.2" textLength="8.44" lengthAdjust="spacingAndGlyphs">6</text>
<rect x="381" y="603" width="2" height="2" fill="#000"/>
<rect x="381" y="608" width="2" height="2" fill="#000"/>
<text x="384.43" y="610" font-size="14" fill="#000" stroke="#fff" stroke-width="0.2" textLength="8.14" lengthAdjust="spacingAndGlyphs">0</text>
<text x="393.43" y="610" font-size="14" fill="#000" stroke="#fff" stroke-width="0.2" textLength="8.14" lengthAdjust="spacingAndGlyphs">0</text>
<text x="450.43" y="610" font-size="14" fill="#000" stroke="#fff" stroke-width="0.2" textLength="8.14" lengthAdjust="spacingAndGlyphs">0</text>
<text x="459.35" y="610" font-size="14" fill="#000" stroke="#fff" stroke-width="0.2" textLength="8.3" lengthAdjust="spacingAndGlyphs">8</text>
<rect x="468" y="603" width="2" height="2" fill="#000"/>
<rect x="468" y="608" width="2" height="2" fill="#000"/>
<text x="471.43" y="610" font-size="14" fill="#000" stroke="#fff" stroke-width="0.2" textLength="8.14" lengthAdjust="spacingAndGlyphs">0</text>
<text x="480.43" y="610" font-size="14" fill="#000" stroke="#fff" stroke-width="0.2" textLength="8.14" lengthAdjust="spacingAndGlyphs">0</text>
<rect x="279" y="621" width="9" height="1" fill="#000"/>
<rect x="315" y="621" width="9" height="1" fill="#000"/>
<text x="179.29" y="626" font-size="14" fill="#000" stroke="#fff" stroke-width="0.2" textLength="32.82" lengthAdjust="spacingAndGlyphs">Start</text>
<text x="217.69" y="626" font-size="14" fill="#000" stroke="#fff" stroke-width="0.2" textLength="30.93" lengthAdjust="spacingAndGlyphs">Time</text>
<text x="254.98" y="626" font-size="14" fill="#000" stroke="#fff" stroke-width="0.2" textLength="23.71" lengthAdjust="spacingAndGlyphs">(15</text>
<text x="288.91" y="626" font-size="14" fill="#000" stroke="#fff" stroke-width="0.2" textLength="25.12" lengthAdjust="spacingAndGlyphs">May</text>
<text x="326.31" y="626" font-size="14" fill="#000" stroke="#fff" stroke-width="0.2" textLength="15.27" lengthAdjust="spacingAndGlyphs">25</text>
<text x="348.22" y="626" font-size="14" fill="#000" stroke="#fff" stroke-width="0.2" textLength="65.75" lengthAdjust="spacingAndGlyphs">23:00:00)</text>
<text transform="translate(25,640) rotate(-90)" x="518.85" y="0" font-size="14" fill="#000" stroke="#fff" stroke-width="0.2" textLength="48.29" lengthAdjust="spacingAndGlyphs">[count]</text>
<text transform="translate(25,640) rotate(-90)" x="475.0" y="0" font-size="14" fill="#000" stroke="#fff" stroke-width="0.2" textLength="37.28" lengthAdjust="spacingAndGlyphs">DCINT</text>
<text transform="translate(16,640) rotate(-90)" x="350.81" y="0" font-size="14" fill="#000" stroke="#fff" stroke-width="0.2" textLength="32.37" lengthAdjust="spacingAndGlyphs">[nm]</text>
<text transform="translate(16,640) rotate(-90)" x="279.96" y="0" font-size="14" fill="#000" stroke="#fff" stroke-width="0.2" textLength="66.33" lengthAdjust="spacingAndGlyphs">LCOFFSET</text>
<text transform="translate(31,640) rotate(-90)" x="197.74" y="0" font-size="14" fill="#000" stroke="#fff" stroke-width="0.2" textLength="28.52" lengthAdjust="spacingAndGlyphs">[bit]</text>
<text transform="translate(31,640) rotate(-90)" x="140.05" y="0" font-size="14" fill="#000" stroke="#fff" stroke-width="0.2" textLength="50.91" lengthAdjust="spacingAndGlyphs">position</text>
<text transform="translate(31,640) rotate(-90)" x="92.36" y="0" font-size="14" fill="#000" stroke="#fff" stroke-width="0.2" textLength="41.89" lengthAdjust="spacingAndGlyphs">center</text>
<text transform="translate(31,640) rotate(-90)" x="58.79" y="0" font-size="14" fill="#000" stroke="#fff" stroke-width="0.2" textLength="27.86" lengthAdjust="spacingAndGlyphs">Line</text>
<path d="M516.5 35.5 L520.5 31.5 L524.5 35.5 L520.5 39.5 Z" fill="none" stroke="#0000ff" stroke-width="1"/>
<rect x="537" y="35" width="9" height="1" fill="#0000ff"/>
<text x="547.43" y="40" font-size="14" fill="#0000ff" stroke="#fff" stroke-width="0.2" textLength="8.14" lengthAdjust="spacingAndGlyphs">0</text>
<rect x="557" y="38" width="1" height="2" fill="#0000ff"/>
<text x="559.43" y="40" font-size="14" fill="#0000ff" stroke="#fff" stroke-width="0.2" textLength="8.14" lengthAdjust="spacingAndGlyphs">0</text>
<text x="568.35" y="40" font-size="14" fill="#0000ff" stroke="#fff" stroke-width="0.2" textLength="8.3" lengthAdjust="spacingAndGlyphs">8</text>
<text x="583.58" y="40" font-size="14" fill="#0000ff" stroke="#fff" stroke-width="0.2" textLength="33.53" lengthAdjust="spacingAndGlyphs">short</text>
<rect x="516" y="47" width="9" height="1" fill="#0000ff"/>
<rect x="520" y="43" width="1" height="9" fill="#0000ff"/>
<rect x="537" y="47" width="9" height="1" fill="#0000ff"/>
<text x="547.43" y="52" font-size="14" fill="#0000ff" stroke="#fff" stroke-width="0.2" textLength="8.14" lengthAdjust="spacingAndGlyphs">0</text>
<rect x="557" y="50" width="1" height="2" fill="#0000ff"/>
<text x="559.43" y="52" font-size="14" fill="#0000ff" stroke="#fff" stroke-width="0.2" textLength="8.14" lengthAdjust="spacingAndGlyphs">0</text>
<text x="568.41" y="52" font-size="14" fill="#0000ff" stroke="#fff" stroke-width="0.2" textLength="8.21" lengthAdjust="spacingAndGlyphs">5</text>
<text x="583.58" y="52" font-size="14" fill="#0000ff" stroke="#fff" stroke-width="0.2" textLength="33.53" lengthAdjust="spacingAndGlyphs">short</text>
<rect x="516" y="59" width="9" height="1" fill="#00ff00"/>
<rect x="520" y="55" width="1" height="9" fill="#00ff00"/>
<rect x="537" y="59" width="9" height="1" fill="#00ff00"/>
<rect x="541" y="55" width="1" height="9" fill="#00ff00"/>
<text x="547.43" y="64" font-size="14" fill="#00ff00" stroke="#fff" stroke-width="0.2" textLength="8.14" lengthAdjust="spacingAndGlyphs">0</text>
<rect x="557" y="62" width="1" height="2" fill="#00ff00"/>
<text x="559.43" y="64" font-size="14" fill="#00ff00" stroke="#fff" stroke-width="0.2" textLength="8.14" lengthAdjust="spacingAndGlyphs">0</text>
<text x="568.43" y="64" font-size="14" fill="#00ff00" stroke="#fff" stroke-width="0.2" textLength="8.14" lengthAdjust="spacingAndGlyphs">0</text>
<text x="583.58" y="64" font-size="14" fill="#00ff00" stroke="#fff" stroke-width="0.2" textLength="33.53" lengthAdjust="spacingAndGlyphs">short</text>
<path d="M516.5 67.5 L524.5 75.5 M524.5 67.5 L516.5 75.5" stroke="#00ff00" stroke-width="1"/>
<rect x="537" y="71" width="9" height="1" fill="#00ff00"/>
<rect x="541" y="67" width="1" height="9" fill="#00ff00"/>
<text x="547.43" y="76" font-size="14" fill="#00ff00" stroke="#fff" stroke-width="0.2" textLength="8.14" lengthAdjust="spacingAndGlyphs">0</text>
<rect x="557" y="74" width="1" height="2" fill="#00ff00"/>
<text x="559.43" y="76" font-size="14" fill="#00ff00" stroke="#fff" stroke-width="0.2" textLength="8.14" lengthAdjust="spacingAndGlyphs">0</text>
<text x="568.43" y="76" font-size="14" fill="#00ff00" stroke="#fff" stroke-width="0.2" textLength="8.14" lengthAdjust="spacingAndGlyphs">0</text>
<text x="583.04" y="76" font-size="14" fill="#00ff00" stroke="#fff" stroke-width="0.2" textLength="42.6" lengthAdjust="spacingAndGlyphs">middle</text>
<path d="M516.5 79.5 L524.5 87.5 M524.5 79.5 L516.5 87.5" stroke="#00ff00" stroke-width="1"/>
<rect x="537" y="83" width="9" height="1" fill="#00ff00"/>
<rect x="541" y="79" width="1" height="9" fill="#00ff00"/>
<text x="547.43" y="88" font-size="14" fill="#00ff00" stroke="#fff" stroke-width="0.2" textLength="8.14" lengthAdjust="spacingAndGlyphs">0</text>
<rect x="557" y="86" width="1" height="2" fill="#00ff00"/>
<text x="559.43" y="88" font-size="14" fill="#00ff00" stroke="#fff" stroke-width="0.2" textLength="8.14" lengthAdjust="spacingAndGlyphs">0</text>
<text x="568.43" y="88" font-size="14" fill="#00ff00" stroke="#fff" stroke-width="0.2" textLength="8.14" lengthAdjust="spacingAndGlyphs">0</text>
<text x="583.0" y="88" font-size="14" fill="#00ff00" stroke="#fff" stroke-width="0.2" textLength="27.95" lengthAdjust="spacingAndGlyphs">long</text>
<rect x="516" y="95" width="9" height="1" fill="#ff0000"/>
<rect x="520" y="91" width="1" height="9" fill="#ff0000"/>
<rect x="537" y="95" width="9" height="1" fill="#ff0000"/>
<rect x="541" y="91" width="1" height="9" fill="#ff0000"/>
<text x="547.43" y="100" font-size="14" fill="#ff0000" stroke="#fff" stroke-width="0.2" textLength="8.14" lengthAdjust="spacingAndGlyphs">0</text>
<rect x="557" y="98" width="1" height="2" fill="#ff0000"/>
<text x="559.43" y="100" font-size="14" fill="#ff0000" stroke="#fff" stroke-width="0.2" textLength="8.14" lengthAdjust="spacingAndGlyphs">0</text>
<text x="568.41" y="100" font-size="14" fill="#ff0000" stroke="#fff" stroke-width="0.2" textLength="8.21" lengthAdjust="spacingAndGlyphs">5</text>
<text x="583.58" y="100" font-size="14" fill="#ff0000" stroke="#fff" stroke-width="0.2" textLength="33.53" lengthAdjust="spacingAndGlyphs">short</text>
<path d="M516.5 107.5 L520.5 103.5 L524.5 107.5 L520.5 111.5 Z" fill="none" stroke="#ff0000" stroke-width="1"/>
<rect x="537" y="107" width="9" height="1" fill="#ff0000"/>
<rect x="541" y="103" width="1" height="9" fill="#ff0000"/>
<text x="547.43" y="112" font-size="14" fill="#ff0000" stroke="#fff" stroke-width="0.2" textLength="8.14" lengthAdjust="spacingAndGlyphs">0</text>
<rect x="557" y="110" width="1" height="2" fill="#ff0000"/>
<text x="559.43" y="112" font-size="14" fill="#ff0000" stroke="#fff" stroke-width="0.2" textLength="8.14" lengthAdjust="spacingAndGlyphs">0</text>
<text x="568.35" y="112" font-size="14" fill="#ff0000" stroke="#fff" stroke-width="0.2" textLength="8.3" lengthAdjust="spacingAndGlyphs">8</text>
<text x="583.58" y="112" font-size="14" fill="#ff0000" stroke="#fff" stroke-width="0.2" textLength="33.53" lengthAdjust="spacingAndGlyphs">short</text>
<path d="M516.5 119.5 L520.5 115.5 L524.5 119.5 L520.5 123.5 Z" fill="none" stroke="#000000" stroke-width="1"/>
<rect x="537" y="119" width="9" height="1" fill="#000000"/>
<rect x="541" y="115" width="1" height="9" fill="#000000"/>
<text x="547.43" y="124" font-size="14" fill="#000000" stroke="#fff" stroke-width="0.2" textLength="8.14" lengthAdjust="spacingAndGlyphs">0</text>
<rect x="557" y="122" width="1" height="2" fill="#000000"/>
<text x="559.44" y="124" font-size="14" fill="#000000" stroke="#fff" stroke-width="0.2" textLength="8.21" lengthAdjust="spacingAndGlyphs">3</text>
<text x="568.41" y="124" font-size="14" fill="#000000" stroke="#fff" stroke-width="0.2" textLength="8.21" lengthAdjust="spacingAndGlyphs">5</text>
<text x="583.58" y="124" font-size="14" fill="#000000" stroke="#fff" stroke-width="0.2" textLength="33.53" lengthAdjust="spacingAndGlyphs">short</text>
<rect x="516" y="225" width="9" height="1" fill="#ff0000"/>
<rect x="520" y="221" width="1" height="9" fill="#ff0000"/>
<text x="534.99" y="230" font-size="14" fill="#ff0000" stroke="#fff" stroke-width="0.2" textLength="64.29" lengthAdjust="spacingAndGlyphs">LCOFFSET</text>
<rect x="517" y="237" width="9" height="1" fill="#ff0000"/>
<text x="533.76" y="242" font-size="14" fill="#ff0000" stroke="#fff" stroke-width="0.2" textLength="41.22" lengthAdjust="spacingAndGlyphs">Fitting</text>
<text x="581.37" y="242" font-size="14" fill="#ff0000" stroke="#fff" stroke-width="0.2" textLength="36.29" lengthAdjust="spacingAndGlyphs">curve</text>
<rect x="517" y="414" width="9" height="1" fill="#ff0000"/>
<text x="533.98" y="419" font-size="14" fill="#ff0000" stroke="#fff" stroke-width="0.2" textLength="52.59" lengthAdjust="spacingAndGlyphs">HACPOS</text>
<rect x="517" y="426" width="9" height="1" fill="#000000"/>
<text x="533.8" y="431" font-size="14" fill="#000000" stroke="#fff" stroke-width="0.2" textLength="29.31" lengthAdjust="spacingAndGlyphs">Best</text>
<text x="568.96" y="431" font-size="14" fill="#000000" stroke="#fff" stroke-width="0.2" textLength="53.62" lengthAdjust="spacingAndGlyphs">HACPOS</text>
</g>
</svg></body></html>
